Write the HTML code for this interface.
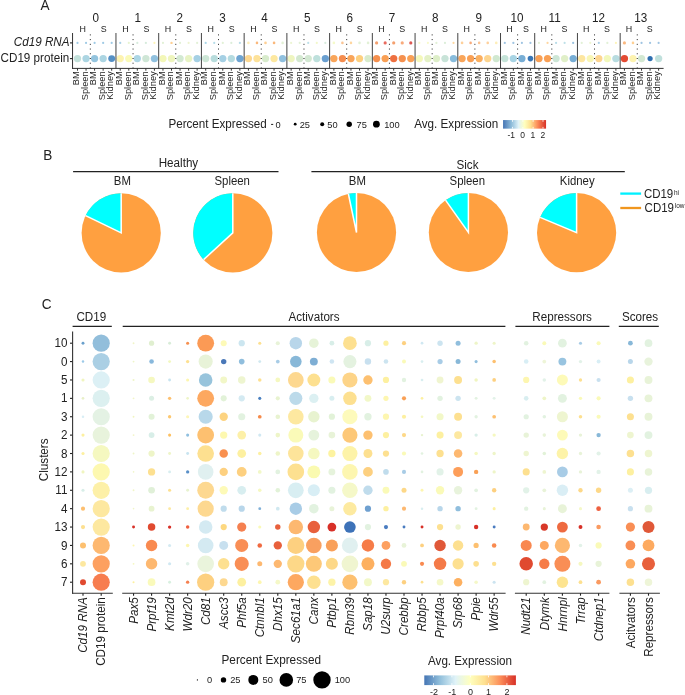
<!DOCTYPE html>
<html><head><meta charset="utf-8"><style>
html,body{margin:0;padding:0;background:#fff;}
svg{display:block;will-change:transform;}
text{font-family:"Liberation Sans", sans-serif;}
</style></head><body>
<svg width="685" height="695" viewBox="0 0 685 695" font-family='"Liberation Sans", sans-serif'>
<rect width="685" height="695" fill="#fff"/>
<text transform="translate(40.60,9.60) scale(1,1.06)" font-size="13.6" text-anchor="start" fill="#222222">A</text>
<circle cx="77.50" cy="58.60" r="3.65" fill="#c2e0da"/>
<circle cx="77.50" cy="42.90" r="1.10" fill="#9fcae5"/>
<circle cx="86.05" cy="58.60" r="3.65" fill="#acd5e2"/>
<circle cx="86.05" cy="42.90" r="1.10" fill="#9fcae5"/>
<circle cx="94.59" cy="58.60" r="3.65" fill="#94c4de"/>
<circle cx="94.59" cy="42.90" r="1.10" fill="#9fcae5"/>
<circle cx="103.14" cy="58.60" r="3.65" fill="#acd5e2"/>
<circle cx="103.14" cy="42.90" r="1.10" fill="#9fcae5"/>
<circle cx="111.68" cy="58.60" r="3.45" fill="#5590c5"/>
<circle cx="111.68" cy="42.90" r="1.10" fill="#9fcae5"/>
<text transform="translate(95.75,21.80) scale(1,1.07)" font-size="11.7" text-anchor="middle" fill="#222222">0</text>
<text transform="translate(82.67,32.40) scale(1,1.07)" font-size="8.9" text-anchor="middle" fill="#222222">H</text>
<text transform="translate(103.74,32.40) scale(1,1.07)" font-size="8.9" text-anchor="middle" fill="#222222">S</text>
<circle cx="120.23" cy="58.60" r="3.65" fill="#fdf3b0"/>
<circle cx="120.23" cy="42.90" r="1.10" fill="#aad0e6"/>
<circle cx="128.78" cy="58.60" r="3.65" fill="#fafab8"/>
<circle cx="128.78" cy="42.90" r="1.10" fill="#e7f4d0"/>
<circle cx="137.32" cy="58.60" r="3.65" fill="#acd6e5"/>
<circle cx="137.32" cy="42.90" r="1.10" fill="#d6ebdc"/>
<circle cx="145.87" cy="58.60" r="3.65" fill="#cfe6d6"/>
<circle cx="145.87" cy="42.90" r="1.10" fill="#d6ebdc"/>
<circle cx="154.41" cy="58.60" r="3.65" fill="#90c0de"/>
<circle cx="154.41" cy="42.90" r="1.10" fill="#fef4b8"/>
<text transform="translate(137.70,21.80) scale(1,1.07)" font-size="11.7" text-anchor="middle" fill="#222222">1</text>
<text transform="translate(125.36,32.40) scale(1,1.07)" font-size="8.9" text-anchor="middle" fill="#222222">H</text>
<text transform="translate(146.39,32.40) scale(1,1.07)" font-size="8.9" text-anchor="middle" fill="#222222">S</text>
<circle cx="162.96" cy="58.60" r="3.65" fill="#f3f7b8"/>
<circle cx="162.96" cy="42.90" r="1.10" fill="#e2f1d6"/>
<circle cx="171.51" cy="58.60" r="3.65" fill="#eef5bd"/>
<circle cx="171.51" cy="42.90" r="1.20" fill="#fed094"/>
<circle cx="180.05" cy="58.60" r="3.65" fill="#d3e9d2"/>
<circle cx="180.05" cy="42.90" r="1.10" fill="#e2f1d6"/>
<circle cx="188.60" cy="58.60" r="3.65" fill="#e8f3c4"/>
<circle cx="188.60" cy="42.90" r="1.10" fill="#eef4d0"/>
<circle cx="197.14" cy="58.60" r="3.65" fill="#a5d0e4"/>
<circle cx="197.14" cy="42.90" r="1.10" fill="#e2f1d6"/>
<text transform="translate(179.80,21.80) scale(1,1.07)" font-size="11.7" text-anchor="middle" fill="#222222">2</text>
<text transform="translate(168.04,32.40) scale(1,1.07)" font-size="8.9" text-anchor="middle" fill="#222222">H</text>
<text transform="translate(189.04,32.40) scale(1,1.07)" font-size="8.9" text-anchor="middle" fill="#222222">S</text>
<circle cx="205.69" cy="58.60" r="3.65" fill="#cde6d6"/>
<circle cx="205.69" cy="42.90" r="1.10" fill="#aad6e8"/>
<circle cx="214.24" cy="58.60" r="3.65" fill="#b8dcdc"/>
<circle cx="214.24" cy="42.90" r="1.10" fill="#b5dce8"/>
<circle cx="222.78" cy="58.60" r="3.65" fill="#a5d0e4"/>
<circle cx="222.78" cy="42.90" r="1.10" fill="#e2f1d6"/>
<circle cx="231.33" cy="58.60" r="3.65" fill="#b5dbe0"/>
<circle cx="231.33" cy="42.90" r="1.10" fill="#dceed9"/>
<circle cx="239.87" cy="58.60" r="3.65" fill="#6fa5d2"/>
<circle cx="239.87" cy="42.90" r="1.10" fill="#b8dce8"/>
<text transform="translate(222.50,21.80) scale(1,1.07)" font-size="11.7" text-anchor="middle" fill="#222222">3</text>
<text transform="translate(210.72,32.40) scale(1,1.07)" font-size="8.9" text-anchor="middle" fill="#222222">H</text>
<text transform="translate(231.70,32.40) scale(1,1.07)" font-size="8.9" text-anchor="middle" fill="#222222">S</text>
<circle cx="248.42" cy="58.60" r="3.65" fill="#fdd890"/>
<circle cx="248.42" cy="42.90" r="1.30" fill="#feeeb8"/>
<circle cx="256.97" cy="58.60" r="3.65" fill="#fde29a"/>
<circle cx="256.97" cy="42.90" r="1.30" fill="#fab87c"/>
<circle cx="265.51" cy="58.60" r="3.65" fill="#d8ebcc"/>
<circle cx="265.51" cy="42.90" r="1.30" fill="#fed094"/>
<circle cx="274.06" cy="58.60" r="3.65" fill="#fde8a0"/>
<circle cx="274.06" cy="42.90" r="1.30" fill="#fab87c"/>
<circle cx="282.60" cy="58.60" r="3.65" fill="#90c0de"/>
<circle cx="282.60" cy="42.90" r="1.30" fill="#e2f1d6"/>
<text transform="translate(264.40,21.80) scale(1,1.07)" font-size="11.7" text-anchor="middle" fill="#222222">4</text>
<text transform="translate(253.41,32.40) scale(1,1.07)" font-size="8.9" text-anchor="middle" fill="#222222">H</text>
<text transform="translate(274.35,32.40) scale(1,1.07)" font-size="8.9" text-anchor="middle" fill="#222222">S</text>
<circle cx="291.15" cy="58.60" r="3.65" fill="#eef5c0"/>
<circle cx="291.15" cy="42.90" r="1.10" fill="#ecf5d3"/>
<circle cx="299.70" cy="58.60" r="3.65" fill="#d3e8d0"/>
<circle cx="299.70" cy="42.90" r="1.10" fill="#e2f1d6"/>
<circle cx="308.24" cy="58.60" r="3.65" fill="#d3e8d2"/>
<circle cx="308.24" cy="42.90" r="1.10" fill="#bce0e8"/>
<circle cx="316.79" cy="58.60" r="3.65" fill="#bee0dc"/>
<circle cx="316.79" cy="42.90" r="1.10" fill="#f2f8ca"/>
<circle cx="325.33" cy="58.60" r="3.65" fill="#6a9fd0"/>
<circle cx="325.33" cy="42.90" r="1.10" fill="#d6ebdc"/>
<text transform="translate(307.30,21.80) scale(1,1.07)" font-size="11.7" text-anchor="middle" fill="#222222">5</text>
<text transform="translate(296.09,32.40) scale(1,1.07)" font-size="8.9" text-anchor="middle" fill="#222222">H</text>
<text transform="translate(317.00,32.40) scale(1,1.07)" font-size="8.9" text-anchor="middle" fill="#222222">S</text>
<circle cx="333.88" cy="58.60" r="3.65" fill="#f9a55a"/>
<circle cx="333.88" cy="42.90" r="1.30" fill="#f5faca"/>
<circle cx="342.43" cy="58.60" r="3.65" fill="#f58d4f"/>
<circle cx="342.43" cy="42.90" r="1.30" fill="#fac494"/>
<circle cx="350.97" cy="58.60" r="3.65" fill="#f9a55a"/>
<circle cx="350.97" cy="42.90" r="1.30" fill="#fed6a0"/>
<circle cx="359.52" cy="58.60" r="3.65" fill="#fdd080"/>
<circle cx="359.52" cy="42.90" r="1.30" fill="#e2f1d6"/>
<circle cx="368.06" cy="58.60" r="3.65" fill="#d8ebcc"/>
<circle cx="368.06" cy="42.90" r="1.30" fill="#e2f1d6"/>
<text transform="translate(349.70,21.80) scale(1,1.07)" font-size="11.7" text-anchor="middle" fill="#222222">6</text>
<text transform="translate(338.78,32.40) scale(1,1.07)" font-size="8.9" text-anchor="middle" fill="#222222">H</text>
<text transform="translate(359.66,32.40) scale(1,1.07)" font-size="8.9" text-anchor="middle" fill="#222222">S</text>
<circle cx="376.61" cy="58.60" r="3.65" fill="#f5904e"/>
<circle cx="376.61" cy="42.90" r="1.60" fill="#f4a06f"/>
<circle cx="385.16" cy="58.60" r="3.65" fill="#f9a055"/>
<circle cx="385.16" cy="42.90" r="1.60" fill="#e86a5e"/>
<circle cx="393.70" cy="58.60" r="3.65" fill="#ee7040"/>
<circle cx="393.70" cy="42.90" r="1.60" fill="#f4a06f"/>
<circle cx="402.25" cy="58.60" r="3.65" fill="#f5904e"/>
<circle cx="402.25" cy="42.90" r="1.60" fill="#f8aa7b"/>
<circle cx="410.79" cy="58.60" r="3.65" fill="#f9a055"/>
<circle cx="410.79" cy="42.90" r="1.60" fill="#dc5853"/>
<text transform="translate(392.00,21.80) scale(1,1.07)" font-size="11.7" text-anchor="middle" fill="#222222">7</text>
<text transform="translate(381.46,32.40) scale(1,1.07)" font-size="8.9" text-anchor="middle" fill="#222222">H</text>
<text transform="translate(402.31,32.40) scale(1,1.07)" font-size="8.9" text-anchor="middle" fill="#222222">S</text>
<circle cx="419.34" cy="58.60" r="3.65" fill="#f4f8bb"/>
<circle cx="419.34" cy="42.90" r="1.10" fill="#f8faca"/>
<circle cx="427.89" cy="58.60" r="3.65" fill="#e4f1c6"/>
<circle cx="427.89" cy="42.90" r="1.10" fill="#f8faca"/>
<circle cx="436.43" cy="58.60" r="3.65" fill="#ddeec8"/>
<circle cx="436.43" cy="42.90" r="1.10" fill="#e2f1d6"/>
<circle cx="444.98" cy="58.60" r="3.65" fill="#c8e3d8"/>
<circle cx="444.98" cy="42.90" r="1.10" fill="#dceed9"/>
<circle cx="453.52" cy="58.60" r="3.65" fill="#88bcdc"/>
<circle cx="453.52" cy="42.90" r="1.10" fill="#fed8a0"/>
<text transform="translate(435.30,21.80) scale(1,1.07)" font-size="11.7" text-anchor="middle" fill="#222222">8</text>
<text transform="translate(424.14,32.40) scale(1,1.07)" font-size="8.9" text-anchor="middle" fill="#222222">H</text>
<text transform="translate(444.96,32.40) scale(1,1.07)" font-size="8.9" text-anchor="middle" fill="#222222">S</text>
<circle cx="462.07" cy="58.60" r="3.65" fill="#f9a55a"/>
<circle cx="462.07" cy="42.90" r="1.30" fill="#fed09b"/>
<circle cx="470.62" cy="58.60" r="3.65" fill="#f9a055"/>
<circle cx="470.62" cy="42.90" r="1.30" fill="#f8aa7b"/>
<circle cx="479.16" cy="58.60" r="3.65" fill="#fbb060"/>
<circle cx="479.16" cy="42.90" r="1.30" fill="#fcc494"/>
<circle cx="487.71" cy="58.60" r="3.65" fill="#fdd590"/>
<circle cx="487.71" cy="42.90" r="1.30" fill="#fed09b"/>
<circle cx="496.25" cy="58.60" r="3.65" fill="#d0e8d0"/>
<circle cx="496.25" cy="42.90" r="1.30" fill="#feeeb8"/>
<text transform="translate(478.70,21.80) scale(1,1.07)" font-size="11.7" text-anchor="middle" fill="#222222">9</text>
<text transform="translate(466.83,32.40) scale(1,1.07)" font-size="8.9" text-anchor="middle" fill="#222222">H</text>
<text transform="translate(487.62,32.40) scale(1,1.07)" font-size="8.9" text-anchor="middle" fill="#222222">S</text>
<circle cx="504.80" cy="58.60" r="3.65" fill="#c5e3d8"/>
<circle cx="504.80" cy="42.90" r="1.10" fill="#9fc4e2"/>
<circle cx="513.35" cy="58.60" r="3.65" fill="#a8d4e4"/>
<circle cx="513.35" cy="42.90" r="1.10" fill="#9fc4e2"/>
<circle cx="521.89" cy="58.60" r="3.65" fill="#78aed5"/>
<circle cx="521.89" cy="42.90" r="1.10" fill="#9fc4e2"/>
<circle cx="530.44" cy="58.60" r="2.80" fill="#3a78b8"/>
<circle cx="530.44" cy="42.90" r="1.10" fill="#9fc4e2"/>
<text transform="translate(517.10,21.80) scale(1,1.07)" font-size="11.7" text-anchor="middle" fill="#222222">10</text>
<text transform="translate(509.51,32.40) scale(1,1.07)" font-size="8.9" text-anchor="middle" fill="#222222">H</text>
<text transform="translate(526.00,32.40) scale(1,1.07)" font-size="8.9" text-anchor="middle" fill="#222222">S</text>
<circle cx="538.98" cy="58.60" r="3.65" fill="#f9a055"/>
<circle cx="538.98" cy="42.90" r="1.10" fill="#e2f1d6"/>
<circle cx="547.53" cy="58.60" r="3.65" fill="#f9a055"/>
<circle cx="547.53" cy="42.90" r="1.10" fill="#fed6a0"/>
<circle cx="556.08" cy="58.60" r="3.65" fill="#cde6d6"/>
<circle cx="556.08" cy="42.90" r="1.10" fill="#b8dce8"/>
<circle cx="564.62" cy="58.60" r="3.65" fill="#e0efc8"/>
<circle cx="564.62" cy="42.90" r="1.10" fill="#bee0e8"/>
<circle cx="573.17" cy="58.60" r="3.65" fill="#78aed5"/>
<circle cx="573.17" cy="42.90" r="1.10" fill="#9ac2e0"/>
<text transform="translate(554.60,21.80) scale(1,1.07)" font-size="11.7" text-anchor="middle" fill="#222222">11</text>
<text transform="translate(543.65,32.40) scale(1,1.07)" font-size="8.9" text-anchor="middle" fill="#222222">H</text>
<text transform="translate(564.38,32.40) scale(1,1.07)" font-size="8.9" text-anchor="middle" fill="#222222">S</text>
<circle cx="581.71" cy="58.60" r="3.65" fill="#fde6a0"/>
<circle cx="581.71" cy="42.90" r="1.10" fill="#e2f1d6"/>
<circle cx="590.26" cy="58.60" r="3.65" fill="#f8f6b5"/>
<circle cx="590.26" cy="42.90" r="1.10" fill="#eef6d0"/>
<circle cx="598.81" cy="58.60" r="3.65" fill="#fdd590"/>
<circle cx="598.81" cy="42.90" r="1.10" fill="#acd0e6"/>
<circle cx="607.35" cy="58.60" r="3.65" fill="#f2f8bb"/>
<circle cx="607.35" cy="42.90" r="1.10" fill="#e2f1d6"/>
<circle cx="615.90" cy="58.60" r="3.65" fill="#b8dce0"/>
<circle cx="615.90" cy="42.90" r="1.10" fill="#fef4b8"/>
<text transform="translate(598.40,21.80) scale(1,1.07)" font-size="11.7" text-anchor="middle" fill="#222222">12</text>
<text transform="translate(586.33,32.40) scale(1,1.07)" font-size="8.9" text-anchor="middle" fill="#222222">H</text>
<text transform="translate(607.03,32.40) scale(1,1.07)" font-size="8.9" text-anchor="middle" fill="#222222">S</text>
<circle cx="624.44" cy="58.60" r="3.65" fill="#e34a33"/>
<circle cx="624.44" cy="42.90" r="1.60" fill="#fab880"/>
<circle cx="632.99" cy="58.60" r="3.65" fill="#fdf3b0"/>
<circle cx="632.99" cy="42.90" r="1.30" fill="#fed094"/>
<circle cx="641.54" cy="58.60" r="3.65" fill="#d3e8d2"/>
<circle cx="641.54" cy="42.90" r="1.10" fill="#9fc4e2"/>
<circle cx="650.08" cy="58.60" r="2.60" fill="#2f6fb0"/>
<circle cx="650.08" cy="42.90" r="1.10" fill="#9fc4e2"/>
<circle cx="658.63" cy="58.60" r="3.65" fill="#c0e0dc"/>
<circle cx="658.63" cy="42.90" r="1.10" fill="#9fc4e2"/>
<text transform="translate(640.80,21.80) scale(1,1.07)" font-size="11.7" text-anchor="middle" fill="#222222">13</text>
<text transform="translate(629.02,32.40) scale(1,1.07)" font-size="8.9" text-anchor="middle" fill="#222222">H</text>
<text transform="translate(649.68,32.40) scale(1,1.07)" font-size="8.9" text-anchor="middle" fill="#222222">S</text>
<line x1="90.32" y1="34.40" x2="90.32" y2="68.40" stroke="#222" stroke-width="1.0" stroke-dasharray="1,3.72"/>
<line x1="133.05" y1="34.40" x2="133.05" y2="68.40" stroke="#222" stroke-width="1.0" stroke-dasharray="1,3.72"/>
<line x1="175.78" y1="34.40" x2="175.78" y2="68.40" stroke="#222" stroke-width="1.0" stroke-dasharray="1,3.72"/>
<line x1="218.51" y1="34.40" x2="218.51" y2="68.40" stroke="#222" stroke-width="1.0" stroke-dasharray="1,3.72"/>
<line x1="261.24" y1="34.40" x2="261.24" y2="68.40" stroke="#222" stroke-width="1.0" stroke-dasharray="1,3.72"/>
<line x1="303.97" y1="34.40" x2="303.97" y2="68.40" stroke="#222" stroke-width="1.0" stroke-dasharray="1,3.72"/>
<line x1="346.70" y1="34.40" x2="346.70" y2="68.40" stroke="#222" stroke-width="1.0" stroke-dasharray="1,3.72"/>
<line x1="389.43" y1="34.40" x2="389.43" y2="68.40" stroke="#222" stroke-width="1.0" stroke-dasharray="1,3.72"/>
<line x1="432.16" y1="34.40" x2="432.16" y2="68.40" stroke="#222" stroke-width="1.0" stroke-dasharray="1,3.72"/>
<line x1="474.89" y1="34.40" x2="474.89" y2="68.40" stroke="#222" stroke-width="1.0" stroke-dasharray="1,3.72"/>
<line x1="517.62" y1="34.40" x2="517.62" y2="68.40" stroke="#222" stroke-width="1.0" stroke-dasharray="1,3.72"/>
<line x1="551.80" y1="34.40" x2="551.80" y2="68.40" stroke="#222" stroke-width="1.0" stroke-dasharray="1,3.72"/>
<line x1="594.53" y1="34.40" x2="594.53" y2="68.40" stroke="#222" stroke-width="1.0" stroke-dasharray="1,3.72"/>
<line x1="637.26" y1="34.40" x2="637.26" y2="68.40" stroke="#222" stroke-width="1.0" stroke-dasharray="1,3.72"/>
<line x1="115.96" y1="33.00" x2="115.96" y2="68.40" stroke="#444" stroke-width="1.0"/>
<line x1="158.69" y1="33.00" x2="158.69" y2="68.40" stroke="#444" stroke-width="1.0"/>
<line x1="201.42" y1="33.00" x2="201.42" y2="68.40" stroke="#444" stroke-width="1.0"/>
<line x1="244.15" y1="33.00" x2="244.15" y2="68.40" stroke="#444" stroke-width="1.0"/>
<line x1="286.88" y1="33.00" x2="286.88" y2="68.40" stroke="#444" stroke-width="1.0"/>
<line x1="329.61" y1="33.00" x2="329.61" y2="68.40" stroke="#444" stroke-width="1.0"/>
<line x1="372.34" y1="33.00" x2="372.34" y2="68.40" stroke="#444" stroke-width="1.0"/>
<line x1="415.07" y1="33.00" x2="415.07" y2="68.40" stroke="#444" stroke-width="1.0"/>
<line x1="457.80" y1="33.00" x2="457.80" y2="68.40" stroke="#444" stroke-width="1.0"/>
<line x1="500.53" y1="33.00" x2="500.53" y2="68.40" stroke="#444" stroke-width="1.0"/>
<line x1="534.71" y1="33.00" x2="534.71" y2="68.40" stroke="#444" stroke-width="1.0"/>
<line x1="577.44" y1="33.00" x2="577.44" y2="68.40" stroke="#444" stroke-width="1.0"/>
<line x1="620.17" y1="33.00" x2="620.17" y2="68.40" stroke="#444" stroke-width="1.0"/>
<line x1="72.55" y1="33.00" x2="72.55" y2="68.90" stroke="#333333" stroke-width="1.0"/>
<line x1="72.05" y1="68.40" x2="663.60" y2="68.40" stroke="#333333" stroke-width="1.0"/>
<line x1="69.95" y1="42.90" x2="72.55" y2="42.90" stroke="#222" stroke-width="1.1"/>
<line x1="69.95" y1="58.60" x2="72.55" y2="58.60" stroke="#222" stroke-width="1.1"/>
<text transform="translate(69.50,45.70) scale(1,1.07)" font-size="11.66" text-anchor="end" font-style="italic" fill="#222222">Cd19 RNA</text>
<text transform="translate(69.20,61.60) scale(1,1.07)" font-size="11.66" text-anchor="end" fill="#222222">CD19 protein</text>
<line x1="77.50" y1="68.40" x2="77.50" y2="70.70" stroke="#333" stroke-width="1.0"/>
<text transform="translate(79.30,71.30) rotate(-90) scale(1,1.07)" font-size="9.3" text-anchor="end" fill="#222222">BM</text>
<line x1="86.05" y1="68.40" x2="86.05" y2="70.70" stroke="#333" stroke-width="1.0"/>
<text transform="translate(87.85,71.30) rotate(-90) scale(1,1.07)" font-size="9.3" text-anchor="end" fill="#222222">Spleen</text>
<line x1="94.59" y1="68.40" x2="94.59" y2="70.70" stroke="#333" stroke-width="1.0"/>
<text transform="translate(96.39,71.30) rotate(-90) scale(1,1.07)" font-size="9.3" text-anchor="end" fill="#222222">BM</text>
<line x1="103.14" y1="68.40" x2="103.14" y2="70.70" stroke="#333" stroke-width="1.0"/>
<text transform="translate(104.94,71.30) rotate(-90) scale(1,1.07)" font-size="9.3" text-anchor="end" fill="#222222">Spleen</text>
<line x1="111.68" y1="68.40" x2="111.68" y2="70.70" stroke="#333" stroke-width="1.0"/>
<text transform="translate(113.48,71.30) rotate(-90) scale(1,1.07)" font-size="9.3" text-anchor="end" fill="#222222">Kidney</text>
<line x1="120.23" y1="68.40" x2="120.23" y2="70.70" stroke="#333" stroke-width="1.0"/>
<text transform="translate(122.03,71.30) rotate(-90) scale(1,1.07)" font-size="9.3" text-anchor="end" fill="#222222">BM</text>
<line x1="128.78" y1="68.40" x2="128.78" y2="70.70" stroke="#333" stroke-width="1.0"/>
<text transform="translate(130.58,71.30) rotate(-90) scale(1,1.07)" font-size="9.3" text-anchor="end" fill="#222222">Spleen</text>
<line x1="137.32" y1="68.40" x2="137.32" y2="70.70" stroke="#333" stroke-width="1.0"/>
<text transform="translate(139.12,71.30) rotate(-90) scale(1,1.07)" font-size="9.3" text-anchor="end" fill="#222222">BM</text>
<line x1="145.87" y1="68.40" x2="145.87" y2="70.70" stroke="#333" stroke-width="1.0"/>
<text transform="translate(147.67,71.30) rotate(-90) scale(1,1.07)" font-size="9.3" text-anchor="end" fill="#222222">Spleen</text>
<line x1="154.41" y1="68.40" x2="154.41" y2="70.70" stroke="#333" stroke-width="1.0"/>
<text transform="translate(156.21,71.30) rotate(-90) scale(1,1.07)" font-size="9.3" text-anchor="end" fill="#222222">Kidney</text>
<line x1="162.96" y1="68.40" x2="162.96" y2="70.70" stroke="#333" stroke-width="1.0"/>
<text transform="translate(164.76,71.30) rotate(-90) scale(1,1.07)" font-size="9.3" text-anchor="end" fill="#222222">BM</text>
<line x1="171.51" y1="68.40" x2="171.51" y2="70.70" stroke="#333" stroke-width="1.0"/>
<text transform="translate(173.31,71.30) rotate(-90) scale(1,1.07)" font-size="9.3" text-anchor="end" fill="#222222">Spleen</text>
<line x1="180.05" y1="68.40" x2="180.05" y2="70.70" stroke="#333" stroke-width="1.0"/>
<text transform="translate(181.85,71.30) rotate(-90) scale(1,1.07)" font-size="9.3" text-anchor="end" fill="#222222">BM</text>
<line x1="188.60" y1="68.40" x2="188.60" y2="70.70" stroke="#333" stroke-width="1.0"/>
<text transform="translate(190.40,71.30) rotate(-90) scale(1,1.07)" font-size="9.3" text-anchor="end" fill="#222222">Spleen</text>
<line x1="197.14" y1="68.40" x2="197.14" y2="70.70" stroke="#333" stroke-width="1.0"/>
<text transform="translate(198.94,71.30) rotate(-90) scale(1,1.07)" font-size="9.3" text-anchor="end" fill="#222222">Kidney</text>
<line x1="205.69" y1="68.40" x2="205.69" y2="70.70" stroke="#333" stroke-width="1.0"/>
<text transform="translate(207.49,71.30) rotate(-90) scale(1,1.07)" font-size="9.3" text-anchor="end" fill="#222222">BM</text>
<line x1="214.24" y1="68.40" x2="214.24" y2="70.70" stroke="#333" stroke-width="1.0"/>
<text transform="translate(216.04,71.30) rotate(-90) scale(1,1.07)" font-size="9.3" text-anchor="end" fill="#222222">Spleen</text>
<line x1="222.78" y1="68.40" x2="222.78" y2="70.70" stroke="#333" stroke-width="1.0"/>
<text transform="translate(224.58,71.30) rotate(-90) scale(1,1.07)" font-size="9.3" text-anchor="end" fill="#222222">BM</text>
<line x1="231.33" y1="68.40" x2="231.33" y2="70.70" stroke="#333" stroke-width="1.0"/>
<text transform="translate(233.13,71.30) rotate(-90) scale(1,1.07)" font-size="9.3" text-anchor="end" fill="#222222">Spleen</text>
<line x1="239.87" y1="68.40" x2="239.87" y2="70.70" stroke="#333" stroke-width="1.0"/>
<text transform="translate(241.67,71.30) rotate(-90) scale(1,1.07)" font-size="9.3" text-anchor="end" fill="#222222">Kidney</text>
<line x1="248.42" y1="68.40" x2="248.42" y2="70.70" stroke="#333" stroke-width="1.0"/>
<text transform="translate(250.22,71.30) rotate(-90) scale(1,1.07)" font-size="9.3" text-anchor="end" fill="#222222">BM</text>
<line x1="256.97" y1="68.40" x2="256.97" y2="70.70" stroke="#333" stroke-width="1.0"/>
<text transform="translate(258.77,71.30) rotate(-90) scale(1,1.07)" font-size="9.3" text-anchor="end" fill="#222222">Spleen</text>
<line x1="265.51" y1="68.40" x2="265.51" y2="70.70" stroke="#333" stroke-width="1.0"/>
<text transform="translate(267.31,71.30) rotate(-90) scale(1,1.07)" font-size="9.3" text-anchor="end" fill="#222222">BM</text>
<line x1="274.06" y1="68.40" x2="274.06" y2="70.70" stroke="#333" stroke-width="1.0"/>
<text transform="translate(275.86,71.30) rotate(-90) scale(1,1.07)" font-size="9.3" text-anchor="end" fill="#222222">Spleen</text>
<line x1="282.60" y1="68.40" x2="282.60" y2="70.70" stroke="#333" stroke-width="1.0"/>
<text transform="translate(284.40,71.30) rotate(-90) scale(1,1.07)" font-size="9.3" text-anchor="end" fill="#222222">Kidney</text>
<line x1="291.15" y1="68.40" x2="291.15" y2="70.70" stroke="#333" stroke-width="1.0"/>
<text transform="translate(292.95,71.30) rotate(-90) scale(1,1.07)" font-size="9.3" text-anchor="end" fill="#222222">BM</text>
<line x1="299.70" y1="68.40" x2="299.70" y2="70.70" stroke="#333" stroke-width="1.0"/>
<text transform="translate(301.50,71.30) rotate(-90) scale(1,1.07)" font-size="9.3" text-anchor="end" fill="#222222">Spleen</text>
<line x1="308.24" y1="68.40" x2="308.24" y2="70.70" stroke="#333" stroke-width="1.0"/>
<text transform="translate(310.04,71.30) rotate(-90) scale(1,1.07)" font-size="9.3" text-anchor="end" fill="#222222">BM</text>
<line x1="316.79" y1="68.40" x2="316.79" y2="70.70" stroke="#333" stroke-width="1.0"/>
<text transform="translate(318.59,71.30) rotate(-90) scale(1,1.07)" font-size="9.3" text-anchor="end" fill="#222222">Spleen</text>
<line x1="325.33" y1="68.40" x2="325.33" y2="70.70" stroke="#333" stroke-width="1.0"/>
<text transform="translate(327.13,71.30) rotate(-90) scale(1,1.07)" font-size="9.3" text-anchor="end" fill="#222222">Kidney</text>
<line x1="333.88" y1="68.40" x2="333.88" y2="70.70" stroke="#333" stroke-width="1.0"/>
<text transform="translate(335.68,71.30) rotate(-90) scale(1,1.07)" font-size="9.3" text-anchor="end" fill="#222222">BM</text>
<line x1="342.43" y1="68.40" x2="342.43" y2="70.70" stroke="#333" stroke-width="1.0"/>
<text transform="translate(344.23,71.30) rotate(-90) scale(1,1.07)" font-size="9.3" text-anchor="end" fill="#222222">Spleen</text>
<line x1="350.97" y1="68.40" x2="350.97" y2="70.70" stroke="#333" stroke-width="1.0"/>
<text transform="translate(352.77,71.30) rotate(-90) scale(1,1.07)" font-size="9.3" text-anchor="end" fill="#222222">BM</text>
<line x1="359.52" y1="68.40" x2="359.52" y2="70.70" stroke="#333" stroke-width="1.0"/>
<text transform="translate(361.32,71.30) rotate(-90) scale(1,1.07)" font-size="9.3" text-anchor="end" fill="#222222">Spleen</text>
<line x1="368.06" y1="68.40" x2="368.06" y2="70.70" stroke="#333" stroke-width="1.0"/>
<text transform="translate(369.86,71.30) rotate(-90) scale(1,1.07)" font-size="9.3" text-anchor="end" fill="#222222">Kidney</text>
<line x1="376.61" y1="68.40" x2="376.61" y2="70.70" stroke="#333" stroke-width="1.0"/>
<text transform="translate(378.41,71.30) rotate(-90) scale(1,1.07)" font-size="9.3" text-anchor="end" fill="#222222">BM</text>
<line x1="385.16" y1="68.40" x2="385.16" y2="70.70" stroke="#333" stroke-width="1.0"/>
<text transform="translate(386.96,71.30) rotate(-90) scale(1,1.07)" font-size="9.3" text-anchor="end" fill="#222222">Spleen</text>
<line x1="393.70" y1="68.40" x2="393.70" y2="70.70" stroke="#333" stroke-width="1.0"/>
<text transform="translate(395.50,71.30) rotate(-90) scale(1,1.07)" font-size="9.3" text-anchor="end" fill="#222222">BM</text>
<line x1="402.25" y1="68.40" x2="402.25" y2="70.70" stroke="#333" stroke-width="1.0"/>
<text transform="translate(404.05,71.30) rotate(-90) scale(1,1.07)" font-size="9.3" text-anchor="end" fill="#222222">Spleen</text>
<line x1="410.79" y1="68.40" x2="410.79" y2="70.70" stroke="#333" stroke-width="1.0"/>
<text transform="translate(412.59,71.30) rotate(-90) scale(1,1.07)" font-size="9.3" text-anchor="end" fill="#222222">Kidney</text>
<line x1="419.34" y1="68.40" x2="419.34" y2="70.70" stroke="#333" stroke-width="1.0"/>
<text transform="translate(421.14,71.30) rotate(-90) scale(1,1.07)" font-size="9.3" text-anchor="end" fill="#222222">BM</text>
<line x1="427.89" y1="68.40" x2="427.89" y2="70.70" stroke="#333" stroke-width="1.0"/>
<text transform="translate(429.69,71.30) rotate(-90) scale(1,1.07)" font-size="9.3" text-anchor="end" fill="#222222">Spleen</text>
<line x1="436.43" y1="68.40" x2="436.43" y2="70.70" stroke="#333" stroke-width="1.0"/>
<text transform="translate(438.23,71.30) rotate(-90) scale(1,1.07)" font-size="9.3" text-anchor="end" fill="#222222">BM</text>
<line x1="444.98" y1="68.40" x2="444.98" y2="70.70" stroke="#333" stroke-width="1.0"/>
<text transform="translate(446.78,71.30) rotate(-90) scale(1,1.07)" font-size="9.3" text-anchor="end" fill="#222222">Spleen</text>
<line x1="453.52" y1="68.40" x2="453.52" y2="70.70" stroke="#333" stroke-width="1.0"/>
<text transform="translate(455.32,71.30) rotate(-90) scale(1,1.07)" font-size="9.3" text-anchor="end" fill="#222222">Kidney</text>
<line x1="462.07" y1="68.40" x2="462.07" y2="70.70" stroke="#333" stroke-width="1.0"/>
<text transform="translate(463.87,71.30) rotate(-90) scale(1,1.07)" font-size="9.3" text-anchor="end" fill="#222222">BM</text>
<line x1="470.62" y1="68.40" x2="470.62" y2="70.70" stroke="#333" stroke-width="1.0"/>
<text transform="translate(472.42,71.30) rotate(-90) scale(1,1.07)" font-size="9.3" text-anchor="end" fill="#222222">Spleen</text>
<line x1="479.16" y1="68.40" x2="479.16" y2="70.70" stroke="#333" stroke-width="1.0"/>
<text transform="translate(480.96,71.30) rotate(-90) scale(1,1.07)" font-size="9.3" text-anchor="end" fill="#222222">BM</text>
<line x1="487.71" y1="68.40" x2="487.71" y2="70.70" stroke="#333" stroke-width="1.0"/>
<text transform="translate(489.51,71.30) rotate(-90) scale(1,1.07)" font-size="9.3" text-anchor="end" fill="#222222">Spleen</text>
<line x1="496.25" y1="68.40" x2="496.25" y2="70.70" stroke="#333" stroke-width="1.0"/>
<text transform="translate(498.05,71.30) rotate(-90) scale(1,1.07)" font-size="9.3" text-anchor="end" fill="#222222">Kidney</text>
<line x1="504.80" y1="68.40" x2="504.80" y2="70.70" stroke="#333" stroke-width="1.0"/>
<text transform="translate(506.60,71.30) rotate(-90) scale(1,1.07)" font-size="9.3" text-anchor="end" fill="#222222">BM</text>
<line x1="513.35" y1="68.40" x2="513.35" y2="70.70" stroke="#333" stroke-width="1.0"/>
<text transform="translate(515.15,71.30) rotate(-90) scale(1,1.07)" font-size="9.3" text-anchor="end" fill="#222222">Spleen</text>
<line x1="521.89" y1="68.40" x2="521.89" y2="70.70" stroke="#333" stroke-width="1.0"/>
<text transform="translate(523.69,71.30) rotate(-90) scale(1,1.07)" font-size="9.3" text-anchor="end" fill="#222222">BM</text>
<line x1="530.44" y1="68.40" x2="530.44" y2="70.70" stroke="#333" stroke-width="1.0"/>
<text transform="translate(532.24,71.30) rotate(-90) scale(1,1.07)" font-size="9.3" text-anchor="end" fill="#222222">Spleen</text>
<line x1="538.98" y1="68.40" x2="538.98" y2="70.70" stroke="#333" stroke-width="1.0"/>
<text transform="translate(540.78,71.30) rotate(-90) scale(1,1.07)" font-size="9.3" text-anchor="end" fill="#222222">BM</text>
<line x1="547.53" y1="68.40" x2="547.53" y2="70.70" stroke="#333" stroke-width="1.0"/>
<text transform="translate(549.33,71.30) rotate(-90) scale(1,1.07)" font-size="9.3" text-anchor="end" fill="#222222">Spleen</text>
<line x1="556.08" y1="68.40" x2="556.08" y2="70.70" stroke="#333" stroke-width="1.0"/>
<text transform="translate(557.88,71.30) rotate(-90) scale(1,1.07)" font-size="9.3" text-anchor="end" fill="#222222">BM</text>
<line x1="564.62" y1="68.40" x2="564.62" y2="70.70" stroke="#333" stroke-width="1.0"/>
<text transform="translate(566.42,71.30) rotate(-90) scale(1,1.07)" font-size="9.3" text-anchor="end" fill="#222222">Spleen</text>
<line x1="573.17" y1="68.40" x2="573.17" y2="70.70" stroke="#333" stroke-width="1.0"/>
<text transform="translate(574.97,71.30) rotate(-90) scale(1,1.07)" font-size="9.3" text-anchor="end" fill="#222222">Kidney</text>
<line x1="581.71" y1="68.40" x2="581.71" y2="70.70" stroke="#333" stroke-width="1.0"/>
<text transform="translate(583.51,71.30) rotate(-90) scale(1,1.07)" font-size="9.3" text-anchor="end" fill="#222222">BM</text>
<line x1="590.26" y1="68.40" x2="590.26" y2="70.70" stroke="#333" stroke-width="1.0"/>
<text transform="translate(592.06,71.30) rotate(-90) scale(1,1.07)" font-size="9.3" text-anchor="end" fill="#222222">Spleen</text>
<line x1="598.81" y1="68.40" x2="598.81" y2="70.70" stroke="#333" stroke-width="1.0"/>
<text transform="translate(600.61,71.30) rotate(-90) scale(1,1.07)" font-size="9.3" text-anchor="end" fill="#222222">BM</text>
<line x1="607.35" y1="68.40" x2="607.35" y2="70.70" stroke="#333" stroke-width="1.0"/>
<text transform="translate(609.15,71.30) rotate(-90) scale(1,1.07)" font-size="9.3" text-anchor="end" fill="#222222">Spleen</text>
<line x1="615.90" y1="68.40" x2="615.90" y2="70.70" stroke="#333" stroke-width="1.0"/>
<text transform="translate(617.70,71.30) rotate(-90) scale(1,1.07)" font-size="9.3" text-anchor="end" fill="#222222">Kidney</text>
<line x1="624.44" y1="68.40" x2="624.44" y2="70.70" stroke="#333" stroke-width="1.0"/>
<text transform="translate(626.24,71.30) rotate(-90) scale(1,1.07)" font-size="9.3" text-anchor="end" fill="#222222">BM</text>
<line x1="632.99" y1="68.40" x2="632.99" y2="70.70" stroke="#333" stroke-width="1.0"/>
<text transform="translate(634.79,71.30) rotate(-90) scale(1,1.07)" font-size="9.3" text-anchor="end" fill="#222222">Spleen</text>
<line x1="641.54" y1="68.40" x2="641.54" y2="70.70" stroke="#333" stroke-width="1.0"/>
<text transform="translate(643.34,71.30) rotate(-90) scale(1,1.07)" font-size="9.3" text-anchor="end" fill="#222222">BM</text>
<line x1="650.08" y1="68.40" x2="650.08" y2="70.70" stroke="#333" stroke-width="1.0"/>
<text transform="translate(651.88,71.30) rotate(-90) scale(1,1.07)" font-size="9.3" text-anchor="end" fill="#222222">Spleen</text>
<line x1="658.63" y1="68.40" x2="658.63" y2="70.70" stroke="#333" stroke-width="1.0"/>
<text transform="translate(660.43,71.30) rotate(-90) scale(1,1.07)" font-size="9.3" text-anchor="end" fill="#222222">Kidney</text>
<text transform="translate(168.40,127.80) scale(1,1.07)" font-size="11.66" text-anchor="start" fill="#222222">Percent Expressed</text>
<rect x="271.1" y="123.9" width="2.1" height="1.1" fill="#333"/>
<circle cx="295.20" cy="124.20" r="1.40" fill="#000"/>
<text transform="translate(299.70,127.60) scale(1,1.07)" font-size="9.3" text-anchor="start" fill="#222222">25</text>
<circle cx="322.20" cy="124.20" r="2.00" fill="#000"/>
<text transform="translate(327.30,127.60) scale(1,1.07)" font-size="9.3" text-anchor="start" fill="#222222">50</text>
<circle cx="349.20" cy="124.20" r="2.70" fill="#000"/>
<text transform="translate(356.60,127.60) scale(1,1.07)" font-size="9.3" text-anchor="start" fill="#222222">75</text>
<circle cx="376.40" cy="124.20" r="3.40" fill="#000"/>
<text transform="translate(384.20,127.60) scale(1,1.07)" font-size="9.3" text-anchor="start" fill="#222222">100</text>
<text transform="translate(275.60,127.60) scale(1,1.07)" font-size="9.3" text-anchor="start" fill="#222222">0</text>
<text transform="translate(414.20,128.00) scale(1,1.07)" font-size="11.66" text-anchor="start" fill="#222222">Avg. Expression</text>
<defs>
<linearGradient id="gA" x1="0" x2="1" y1="0" y2="0">
<stop offset="0" stop-color="#4575b4"/><stop offset="0.2" stop-color="#91bfdb"/><stop offset="0.36" stop-color="#e0f3f8"/>
<stop offset="0.5" stop-color="#ffffbf"/><stop offset="0.64" stop-color="#fee090"/><stop offset="0.8" stop-color="#fc8d59"/><stop offset="1" stop-color="#d73027"/>
</linearGradient>
<linearGradient id="gC" x1="0" x2="1" y1="0" y2="0">
<stop offset="0" stop-color="#4575b4"/><stop offset="0.17" stop-color="#91bfdb"/><stop offset="0.34" stop-color="#e0f3f8"/>
<stop offset="0.5" stop-color="#ffffbf"/><stop offset="0.66" stop-color="#fee090"/><stop offset="0.83" stop-color="#fc8d59"/><stop offset="1" stop-color="#d73027"/>
</linearGradient>
</defs>
<rect x="503.06" y="120.06" width="43.0" height="8.58" fill="url(#gA)"/>
<line x1="512.50" y1="120.06" x2="512.50" y2="121.80" stroke="#fff" stroke-width="0.8"/>
<line x1="512.50" y1="126.90" x2="512.50" y2="128.64" stroke="#fff" stroke-width="0.8"/>
<line x1="522.90" y1="120.06" x2="522.90" y2="121.80" stroke="#fff" stroke-width="0.8"/>
<line x1="522.90" y1="126.90" x2="522.90" y2="128.64" stroke="#fff" stroke-width="0.8"/>
<line x1="533.10" y1="120.06" x2="533.10" y2="121.80" stroke="#fff" stroke-width="0.8"/>
<line x1="533.10" y1="126.90" x2="533.10" y2="128.64" stroke="#fff" stroke-width="0.8"/>
<line x1="543.00" y1="120.06" x2="543.00" y2="121.80" stroke="#fff" stroke-width="0.8"/>
<line x1="543.00" y1="126.90" x2="543.00" y2="128.64" stroke="#fff" stroke-width="0.8"/>
<text transform="translate(511.20,137.80) scale(1,1.07)" font-size="8.5" text-anchor="middle" fill="#222222">-1</text>
<text transform="translate(522.60,137.80) scale(1,1.07)" font-size="8.5" text-anchor="middle" fill="#222222">0</text>
<text transform="translate(532.80,137.80) scale(1,1.07)" font-size="8.5" text-anchor="middle" fill="#222222">1</text>
<text transform="translate(542.90,137.80) scale(1,1.07)" font-size="8.5" text-anchor="middle" fill="#222222">2</text>
<text transform="translate(43.30,159.60) scale(1,1.06)" font-size="13.6" text-anchor="start" fill="#222222">B</text>
<line x1="73.10" y1="171.70" x2="278.50" y2="171.70" stroke="#222" stroke-width="1.2"/>
<text transform="translate(178.45,166.60) scale(1,1.07)" font-size="11.66" text-anchor="middle" fill="#222222">Healthy</text>
<line x1="311.40" y1="171.60" x2="624.80" y2="171.60" stroke="#222" stroke-width="1.2"/>
<text transform="translate(467.50,168.80) scale(1,1.07)" font-size="11.66" text-anchor="middle" fill="#222222">Sick</text>
<circle cx="121.2" cy="232.9" r="39.6" fill="#ffa040"/>
<path d="M121.2,232.9 L121.2,193.3 A39.6,39.6 0 0 0 85.58,215.59 Z" fill="#00ffff"/>
<path d="M121.2,193.3 L121.2,232.9 L85.58,215.59" fill="none" stroke="#fff" stroke-width="1.5"/>
<text transform="translate(122.40,185.20) scale(1,1.07)" font-size="11.4" text-anchor="middle" fill="#222222">BM</text>
<circle cx="232.8" cy="232.9" r="39.6" fill="#ffa040"/>
<path d="M232.8,232.9 L232.8,193.3 A39.6,39.6 0 0 0 203.59,259.64 Z" fill="#00ffff"/>
<path d="M232.8,193.3 L232.8,232.9 L203.59,259.64" fill="none" stroke="#fff" stroke-width="1.5"/>
<text transform="translate(232.20,185.20) scale(1,1.07)" font-size="11.4" text-anchor="middle" fill="#222222">Spleen</text>
<circle cx="356.5" cy="232.5" r="39.6" fill="#ffa040"/>
<path d="M356.5,232.5 L356.5,192.9 A39.6,39.6 0 0 0 348.35,193.75 Z" fill="#00ffff"/>
<path d="M356.5,192.9 L356.5,232.5 L348.35,193.75" fill="none" stroke="#fff" stroke-width="1.5"/>
<text transform="translate(357.40,185.20) scale(1,1.07)" font-size="11.4" text-anchor="middle" fill="#222222">BM</text>
<circle cx="468.4" cy="232.5" r="39.6" fill="#ffa040"/>
<path d="M468.4,232.5 L468.4,192.9 A39.6,39.6 0 0 0 445.53,200.17 Z" fill="#00ffff"/>
<path d="M468.4,192.9 L468.4,232.5 L445.53,200.17" fill="none" stroke="#fff" stroke-width="1.5"/>
<text transform="translate(467.30,185.20) scale(1,1.07)" font-size="11.4" text-anchor="middle" fill="#222222">Spleen</text>
<circle cx="576.6" cy="232.7" r="39.6" fill="#ffa040"/>
<path d="M576.6,232.7 L576.6,193.1 A39.6,39.6 0 0 0 540.06,217.43 Z" fill="#00ffff"/>
<path d="M576.6,193.1 L576.6,232.7 L540.06,217.43" fill="none" stroke="#fff" stroke-width="1.5"/>
<text transform="translate(577.20,185.20) scale(1,1.07)" font-size="11.4" text-anchor="middle" fill="#222222">Kidney</text>
<line x1="620.30" y1="193.60" x2="641.10" y2="193.60" stroke="#00f0ff" stroke-width="2.3"/>
<line x1="620.30" y1="208.00" x2="641.10" y2="208.00" stroke="#f0961e" stroke-width="2.3"/>
<text transform="translate(643.90,197.60) scale(1,1.07)" font-size="11.5" text-anchor="start" fill="#222222">CD19</text>
<text transform="translate(674.00,194.50) scale(1,1.07)" font-size="6.5" text-anchor="start" fill="#222222">hi</text>
<text transform="translate(644.60,211.90) scale(1,1.07)" font-size="11.5" text-anchor="start" fill="#222222">CD19</text>
<text transform="translate(674.80,208.10) scale(1,1.07)" font-size="6.5" text-anchor="start" fill="#222222">low</text>
<text transform="translate(41.70,308.50) scale(1,1.06)" font-size="13.6" text-anchor="start" fill="#222222">C</text>
<circle cx="83.00" cy="343.20" r="1.45" fill="#6aa0cc"/>
<circle cx="101.20" cy="343.20" r="8.60" fill="#92bedb"/>
<circle cx="133.55" cy="343.20" r="0.93" fill="#f0f5c8"/>
<circle cx="151.58" cy="343.20" r="2.60" fill="#e0efd0"/>
<circle cx="169.61" cy="343.20" r="1.45" fill="#d8ecd8"/>
<circle cx="187.64" cy="343.20" r="1.55" fill="#f69050"/>
<circle cx="205.67" cy="343.20" r="8.42" fill="#fb9a55"/>
<circle cx="223.70" cy="343.20" r="3.02" fill="#fdfab8"/>
<circle cx="241.73" cy="343.20" r="3.12" fill="#cce6f0"/>
<circle cx="259.76" cy="343.20" r="1.55" fill="#fde090"/>
<circle cx="277.79" cy="343.20" r="2.07" fill="#e8f3d8"/>
<circle cx="295.82" cy="343.20" r="6.24" fill="#b8d6ea"/>
<circle cx="313.85" cy="343.20" r="4.78" fill="#e6f3d8"/>
<circle cx="331.88" cy="343.20" r="2.39" fill="#d8eee8"/>
<circle cx="349.91" cy="343.20" r="6.86" fill="#fde090"/>
<circle cx="367.94" cy="343.20" r="3.12" fill="#d8eee8"/>
<circle cx="385.97" cy="343.20" r="2.60" fill="#fdf0a0"/>
<circle cx="404.00" cy="343.20" r="2.08" fill="#fdd080"/>
<circle cx="422.03" cy="343.20" r="1.34" fill="#d0e8f2"/>
<circle cx="440.06" cy="343.20" r="2.70" fill="#cce4f0"/>
<circle cx="458.09" cy="343.20" r="2.50" fill="#90bedd"/>
<circle cx="476.12" cy="343.20" r="1.66" fill="#eef5c8"/>
<circle cx="494.15" cy="343.20" r="1.55" fill="#eef5c8"/>
<circle cx="526.20" cy="343.20" r="2.29" fill="#e2f2e0"/>
<circle cx="544.30" cy="343.20" r="1.97" fill="#fafab8"/>
<circle cx="562.40" cy="343.20" r="4.37" fill="#e2f2e0"/>
<circle cx="580.50" cy="343.20" r="1.55" fill="#a8cce6"/>
<circle cx="598.60" cy="343.20" r="2.07" fill="#fafab8"/>
<circle cx="630.40" cy="343.20" r="2.39" fill="#88b8d8"/>
<circle cx="648.50" cy="343.20" r="3.85" fill="#e2f2e0"/>
<line x1="70.00" y1="343.20" x2="72.60" y2="343.20" stroke="#222" stroke-width="1.1"/>
<text transform="translate(67.40,347.30) scale(1,1.07)" font-size="11.66" text-anchor="end" fill="#222222">10</text>
<circle cx="83.00" cy="361.58" r="1.24" fill="#9ccae8"/>
<circle cx="101.20" cy="361.58" r="8.60" fill="#aacfe4"/>
<circle cx="133.55" cy="361.58" r="0.93" fill="#eef5c8"/>
<circle cx="151.58" cy="361.58" r="2.29" fill="#88b8dc"/>
<circle cx="169.61" cy="361.58" r="1.45" fill="#f2f8c0"/>
<circle cx="187.64" cy="361.58" r="1.66" fill="#fde090"/>
<circle cx="205.67" cy="361.58" r="7.07" fill="#e8f3d8"/>
<circle cx="223.70" cy="361.58" r="2.70" fill="#4a78b8"/>
<circle cx="241.73" cy="361.58" r="2.81" fill="#90bedd"/>
<circle cx="259.76" cy="361.58" r="1.45" fill="#d0e8f0"/>
<circle cx="277.79" cy="361.58" r="1.86" fill="#a8cce6"/>
<circle cx="295.82" cy="361.58" r="5.82" fill="#88b8d8"/>
<circle cx="313.85" cy="361.58" r="3.95" fill="#7eaed4"/>
<circle cx="331.88" cy="361.58" r="2.29" fill="#cfe5f2"/>
<circle cx="349.91" cy="361.58" r="6.55" fill="#e4f2e0"/>
<circle cx="367.94" cy="361.58" r="3.22" fill="#c8e0ef"/>
<circle cx="385.97" cy="361.58" r="2.29" fill="#cce4f0"/>
<circle cx="404.00" cy="361.58" r="1.97" fill="#fafab8"/>
<circle cx="422.03" cy="361.58" r="1.34" fill="#d8eef0"/>
<circle cx="440.06" cy="361.58" r="2.60" fill="#a8cce6"/>
<circle cx="458.09" cy="361.58" r="2.50" fill="#88b8d8"/>
<circle cx="476.12" cy="361.58" r="1.55" fill="#90bedd"/>
<circle cx="494.15" cy="361.58" r="1.76" fill="#fdc070"/>
<circle cx="526.20" cy="361.58" r="2.29" fill="#d8eef5"/>
<circle cx="544.30" cy="361.58" r="1.86" fill="#eef5d8"/>
<circle cx="562.40" cy="361.58" r="3.95" fill="#98c4e0"/>
<circle cx="580.50" cy="361.58" r="1.66" fill="#e2f2e8"/>
<circle cx="598.60" cy="361.58" r="1.97" fill="#d8eef5"/>
<circle cx="630.40" cy="361.58" r="2.50" fill="#b8d6ea"/>
<circle cx="648.50" cy="361.58" r="4.16" fill="#e8f3dc"/>
<line x1="70.00" y1="361.58" x2="72.60" y2="361.58" stroke="#222" stroke-width="1.1"/>
<text transform="translate(67.40,365.69) scale(1,1.07)" font-size="11.66" text-anchor="end" fill="#222222">0</text>
<circle cx="83.00" cy="379.97" r="1.55" fill="#f0f5c0"/>
<circle cx="101.20" cy="379.97" r="8.60" fill="#dcf0f5"/>
<circle cx="133.55" cy="379.97" r="1.03" fill="#eef5c8"/>
<circle cx="151.58" cy="379.97" r="3.33" fill="#f5f8c0"/>
<circle cx="169.61" cy="379.97" r="1.45" fill="#c8e4f0"/>
<circle cx="187.64" cy="379.97" r="1.55" fill="#fdf6b0"/>
<circle cx="205.67" cy="379.97" r="6.76" fill="#98c4dc"/>
<circle cx="223.70" cy="379.97" r="3.43" fill="#f2f7c8"/>
<circle cx="241.73" cy="379.97" r="3.74" fill="#eef5d0"/>
<circle cx="259.76" cy="379.97" r="1.76" fill="#fde090"/>
<circle cx="277.79" cy="379.97" r="2.39" fill="#f5f8c0"/>
<circle cx="295.82" cy="379.97" r="7.90" fill="#fdd890"/>
<circle cx="313.85" cy="379.97" r="6.45" fill="#fde090"/>
<circle cx="331.88" cy="379.97" r="3.54" fill="#fafab8"/>
<circle cx="349.91" cy="379.97" r="7.59" fill="#fdd488"/>
<circle cx="367.94" cy="379.97" r="4.68" fill="#fdc070"/>
<circle cx="385.97" cy="379.97" r="3.12" fill="#fdf0a0"/>
<circle cx="404.00" cy="379.97" r="2.18" fill="#e2f2e0"/>
<circle cx="422.03" cy="379.97" r="1.34" fill="#d8eef0"/>
<circle cx="440.06" cy="379.97" r="3.43" fill="#f0f5d0"/>
<circle cx="458.09" cy="379.97" r="3.95" fill="#fde090"/>
<circle cx="476.12" cy="379.97" r="1.76" fill="#f0f5c0"/>
<circle cx="494.15" cy="379.97" r="1.86" fill="#fdd080"/>
<circle cx="526.20" cy="379.97" r="3.12" fill="#fdf6b0"/>
<circle cx="544.30" cy="379.97" r="1.76" fill="#e2f2e8"/>
<circle cx="562.40" cy="379.97" r="5.51" fill="#fdfab8"/>
<circle cx="580.50" cy="379.97" r="1.66" fill="#fde090"/>
<circle cx="598.60" cy="379.97" r="2.08" fill="#c8e0ef"/>
<circle cx="630.40" cy="379.97" r="3.54" fill="#fdf0a0"/>
<circle cx="648.50" cy="379.97" r="3.95" fill="#e8f3d8"/>
<line x1="70.00" y1="379.97" x2="72.60" y2="379.97" stroke="#222" stroke-width="1.1"/>
<text transform="translate(67.40,384.07) scale(1,1.07)" font-size="11.66" text-anchor="end" fill="#222222">5</text>
<circle cx="83.00" cy="398.36" r="1.34" fill="#e8f0c8"/>
<circle cx="101.20" cy="398.36" r="8.60" fill="#dcf0f0"/>
<circle cx="133.55" cy="398.36" r="0.93" fill="#f2f5c8"/>
<circle cx="151.58" cy="398.36" r="2.50" fill="#dcefe4"/>
<circle cx="169.61" cy="398.36" r="1.66" fill="#fdc070"/>
<circle cx="187.64" cy="398.36" r="1.34" fill="#eef5c8"/>
<circle cx="205.67" cy="398.36" r="8.42" fill="#fda860"/>
<circle cx="223.70" cy="398.36" r="3.02" fill="#e2f2d8"/>
<circle cx="241.73" cy="398.36" r="3.12" fill="#d4eaf2"/>
<circle cx="259.76" cy="398.36" r="1.55" fill="#4a80c0"/>
<circle cx="277.79" cy="398.36" r="2.07" fill="#e8f3d0"/>
<circle cx="295.82" cy="398.36" r="6.55" fill="#bcdaea"/>
<circle cx="313.85" cy="398.36" r="4.68" fill="#dcf0f2"/>
<circle cx="331.88" cy="398.36" r="2.50" fill="#d8eef0"/>
<circle cx="349.91" cy="398.36" r="6.76" fill="#fde090"/>
<circle cx="367.94" cy="398.36" r="3.43" fill="#f2f8c8"/>
<circle cx="385.97" cy="398.36" r="2.60" fill="#fdf6b0"/>
<circle cx="404.00" cy="398.36" r="2.08" fill="#f9a055"/>
<circle cx="422.03" cy="398.36" r="1.34" fill="#fdf0a0"/>
<circle cx="440.06" cy="398.36" r="2.70" fill="#e2f2e0"/>
<circle cx="458.09" cy="398.36" r="2.70" fill="#cce4f0"/>
<circle cx="476.12" cy="398.36" r="1.45" fill="#e2f2e0"/>
<circle cx="494.15" cy="398.36" r="1.45" fill="#e2f2e8"/>
<circle cx="526.20" cy="398.36" r="2.29" fill="#d8eef0"/>
<circle cx="544.30" cy="398.36" r="1.86" fill="#eef5c8"/>
<circle cx="562.40" cy="398.36" r="4.47" fill="#e2f2e0"/>
<circle cx="580.50" cy="398.36" r="1.66" fill="#fafab8"/>
<circle cx="598.60" cy="398.36" r="2.07" fill="#fafab8"/>
<circle cx="630.40" cy="398.36" r="2.70" fill="#c8e0ef"/>
<circle cx="648.50" cy="398.36" r="3.95" fill="#e8f3d8"/>
<line x1="70.00" y1="398.36" x2="72.60" y2="398.36" stroke="#222" stroke-width="1.1"/>
<text transform="translate(67.40,402.46) scale(1,1.07)" font-size="11.66" text-anchor="end" fill="#222222">1</text>
<circle cx="83.00" cy="416.74" r="1.24" fill="#d8eef5"/>
<circle cx="101.20" cy="416.74" r="8.60" fill="#e4f2e4"/>
<circle cx="133.55" cy="416.74" r="0.93" fill="#f0f5c0"/>
<circle cx="151.58" cy="416.74" r="3.02" fill="#e2f2d8"/>
<circle cx="169.61" cy="416.74" r="1.66" fill="#fdc870"/>
<circle cx="187.64" cy="416.74" r="1.55" fill="#fdf6b8"/>
<circle cx="205.67" cy="416.74" r="7.07" fill="#b8d8ea"/>
<circle cx="223.70" cy="416.74" r="4.16" fill="#fdd380"/>
<circle cx="241.73" cy="416.74" r="3.54" fill="#e2f2e0"/>
<circle cx="259.76" cy="416.74" r="1.86" fill="#f68a4a"/>
<circle cx="277.79" cy="416.74" r="2.29" fill="#e8f3d0"/>
<circle cx="295.82" cy="416.74" r="7.80" fill="#fde8a0"/>
<circle cx="313.85" cy="416.74" r="5.72" fill="#e8f3d0"/>
<circle cx="331.88" cy="416.74" r="3.12" fill="#e2f2d8"/>
<circle cx="349.91" cy="416.74" r="7.59" fill="#fdfabb"/>
<circle cx="367.94" cy="416.74" r="3.64" fill="#e2f2e0"/>
<circle cx="385.97" cy="416.74" r="3.12" fill="#fdf6b0"/>
<circle cx="404.00" cy="416.74" r="2.08" fill="#fdf0a0"/>
<circle cx="422.03" cy="416.74" r="1.34" fill="#f5f8c0"/>
<circle cx="440.06" cy="416.74" r="3.54" fill="#f2f8c8"/>
<circle cx="458.09" cy="416.74" r="3.95" fill="#fde090"/>
<circle cx="476.12" cy="416.74" r="1.66" fill="#e2f2e0"/>
<circle cx="494.15" cy="416.74" r="1.86" fill="#fdc070"/>
<circle cx="526.20" cy="416.74" r="2.60" fill="#e2f2e0"/>
<circle cx="544.30" cy="416.74" r="1.76" fill="#e2f2e0"/>
<circle cx="562.40" cy="416.74" r="5.51" fill="#eef5d0"/>
<circle cx="580.50" cy="416.74" r="1.76" fill="#fde090"/>
<circle cx="598.60" cy="416.74" r="2.08" fill="#fafab8"/>
<circle cx="630.40" cy="416.74" r="3.54" fill="#fde090"/>
<circle cx="648.50" cy="416.74" r="3.95" fill="#e8f3d8"/>
<line x1="70.00" y1="416.74" x2="72.60" y2="416.74" stroke="#222" stroke-width="1.1"/>
<text transform="translate(67.40,420.84) scale(1,1.07)" font-size="11.66" text-anchor="end" fill="#222222">3</text>
<circle cx="83.00" cy="435.12" r="1.55" fill="#fdf0a0"/>
<circle cx="101.20" cy="435.12" r="8.60" fill="#e8f3dc"/>
<circle cx="133.55" cy="435.12" r="0.93" fill="#f2f5c8"/>
<circle cx="151.58" cy="435.12" r="2.91" fill="#d8eee8"/>
<circle cx="169.61" cy="435.12" r="1.55" fill="#fdc060"/>
<circle cx="187.64" cy="435.12" r="1.55" fill="#90c0e0"/>
<circle cx="205.67" cy="435.12" r="8.42" fill="#fdc070"/>
<circle cx="223.70" cy="435.12" r="3.64" fill="#fdf8b0"/>
<circle cx="241.73" cy="435.12" r="4.37" fill="#fdf0a8"/>
<circle cx="259.76" cy="435.12" r="1.55" fill="#d0e8f2"/>
<circle cx="277.79" cy="435.12" r="2.29" fill="#eef5c8"/>
<circle cx="295.82" cy="435.12" r="7.49" fill="#fafab8"/>
<circle cx="313.85" cy="435.12" r="5.41" fill="#e6f3dc"/>
<circle cx="331.88" cy="435.12" r="3.33" fill="#e8f3d8"/>
<circle cx="349.91" cy="435.12" r="7.59" fill="#fdc878"/>
<circle cx="367.94" cy="435.12" r="4.68" fill="#fdc070"/>
<circle cx="385.97" cy="435.12" r="3.12" fill="#fdf0a0"/>
<circle cx="404.00" cy="435.12" r="2.08" fill="#fdd888"/>
<circle cx="422.03" cy="435.12" r="1.24" fill="#e8f3d0"/>
<circle cx="440.06" cy="435.12" r="3.54" fill="#fdf0a0"/>
<circle cx="458.09" cy="435.12" r="3.95" fill="#fde8a0"/>
<circle cx="476.12" cy="435.12" r="1.66" fill="#d8eee8"/>
<circle cx="494.15" cy="435.12" r="1.66" fill="#f5f8c0"/>
<circle cx="526.20" cy="435.12" r="2.70" fill="#e8f3d8"/>
<circle cx="544.30" cy="435.12" r="1.76" fill="#e8f3d8"/>
<circle cx="562.40" cy="435.12" r="5.41" fill="#fdfab8"/>
<circle cx="580.50" cy="435.12" r="1.66" fill="#e8f3d8"/>
<circle cx="598.60" cy="435.12" r="2.18" fill="#88b8d8"/>
<circle cx="630.40" cy="435.12" r="3.33" fill="#eef5d0"/>
<circle cx="648.50" cy="435.12" r="3.95" fill="#e2f2e0"/>
<line x1="70.00" y1="435.12" x2="72.60" y2="435.12" stroke="#222" stroke-width="1.1"/>
<text transform="translate(67.40,439.23) scale(1,1.07)" font-size="11.66" text-anchor="end" fill="#222222">2</text>
<circle cx="83.00" cy="453.51" r="1.55" fill="#fdf0a0"/>
<circle cx="101.20" cy="453.51" r="8.60" fill="#f5f8c0"/>
<circle cx="133.55" cy="453.51" r="0.93" fill="#eef5c8"/>
<circle cx="151.58" cy="453.51" r="3.12" fill="#eef5c8"/>
<circle cx="169.61" cy="453.51" r="1.45" fill="#eef5c8"/>
<circle cx="187.64" cy="453.51" r="1.45" fill="#c8e4f0"/>
<circle cx="205.67" cy="453.51" r="8.32" fill="#fde090"/>
<circle cx="223.70" cy="453.51" r="4.26" fill="#f9904f"/>
<circle cx="241.73" cy="453.51" r="4.37" fill="#fdf0a0"/>
<circle cx="259.76" cy="453.51" r="1.76" fill="#fdf0a0"/>
<circle cx="277.79" cy="453.51" r="2.29" fill="#eef5c8"/>
<circle cx="295.82" cy="453.51" r="7.80" fill="#fde49a"/>
<circle cx="313.85" cy="453.51" r="5.82" fill="#f5f8c0"/>
<circle cx="331.88" cy="453.51" r="3.64" fill="#fdf3a0"/>
<circle cx="349.91" cy="453.51" r="7.59" fill="#fdf3a8"/>
<circle cx="367.94" cy="453.51" r="4.47" fill="#fde090"/>
<circle cx="385.97" cy="453.51" r="3.12" fill="#fde090"/>
<circle cx="404.00" cy="453.51" r="2.08" fill="#fafab8"/>
<circle cx="422.03" cy="453.51" r="1.34" fill="#e2f2e0"/>
<circle cx="440.06" cy="453.51" r="3.64" fill="#fde090"/>
<circle cx="458.09" cy="453.51" r="4.26" fill="#fdb870"/>
<circle cx="476.12" cy="453.51" r="1.76" fill="#f5f8c0"/>
<circle cx="494.15" cy="453.51" r="1.66" fill="#eef5c8"/>
<circle cx="526.20" cy="453.51" r="2.70" fill="#eef5d0"/>
<circle cx="544.30" cy="453.51" r="1.76" fill="#e2f2d8"/>
<circle cx="562.40" cy="453.51" r="5.72" fill="#fdf3a8"/>
<circle cx="580.50" cy="453.51" r="1.66" fill="#e8f3d8"/>
<circle cx="598.60" cy="453.51" r="2.08" fill="#e2f2e8"/>
<circle cx="630.40" cy="453.51" r="3.74" fill="#fde090"/>
<circle cx="648.50" cy="453.51" r="3.74" fill="#eef5d0"/>
<line x1="70.00" y1="453.51" x2="72.60" y2="453.51" stroke="#222" stroke-width="1.1"/>
<text transform="translate(67.40,457.61) scale(1,1.07)" font-size="11.66" text-anchor="end" fill="#222222">8</text>
<circle cx="83.00" cy="471.89" r="1.55" fill="#f0f5c0"/>
<circle cx="101.20" cy="471.89" r="8.60" fill="#fdf8b0"/>
<circle cx="133.55" cy="471.89" r="0.82" fill="#f0f5c8"/>
<circle cx="151.58" cy="471.89" r="3.64" fill="#fde090"/>
<circle cx="169.61" cy="471.89" r="1.45" fill="#d8eef0"/>
<circle cx="187.64" cy="471.89" r="1.66" fill="#5a90c8"/>
<circle cx="205.67" cy="471.89" r="7.80" fill="#e0f0f0"/>
<circle cx="223.70" cy="471.89" r="4.16" fill="#fdd080"/>
<circle cx="241.73" cy="471.89" r="4.89" fill="#fdd080"/>
<circle cx="259.76" cy="471.89" r="1.86" fill="#f2f8c8"/>
<circle cx="277.79" cy="471.89" r="2.39" fill="#e2f2e0"/>
<circle cx="295.82" cy="471.89" r="8.32" fill="#fde090"/>
<circle cx="313.85" cy="471.89" r="6.45" fill="#fafab0"/>
<circle cx="331.88" cy="471.89" r="3.43" fill="#e6f3dc"/>
<circle cx="349.91" cy="471.89" r="7.80" fill="#fdf6b0"/>
<circle cx="367.94" cy="471.89" r="4.89" fill="#fdd080"/>
<circle cx="385.97" cy="471.89" r="2.81" fill="#c0dcec"/>
<circle cx="404.00" cy="471.89" r="2.07" fill="#a8cce6"/>
<circle cx="422.03" cy="471.89" r="1.34" fill="#e2f2e0"/>
<circle cx="440.06" cy="471.89" r="3.54" fill="#e2f2e8"/>
<circle cx="458.09" cy="471.89" r="4.99" fill="#fd9e5a"/>
<circle cx="476.12" cy="471.89" r="2.18" fill="#f9a055"/>
<circle cx="494.15" cy="471.89" r="1.66" fill="#eef5c8"/>
<circle cx="526.20" cy="471.89" r="3.54" fill="#fde090"/>
<circle cx="544.30" cy="471.89" r="1.86" fill="#eef5d0"/>
<circle cx="562.40" cy="471.89" r="5.41" fill="#a8cce6"/>
<circle cx="580.50" cy="471.89" r="1.66" fill="#e8f3d8"/>
<circle cx="598.60" cy="471.89" r="2.18" fill="#e2f2e8"/>
<circle cx="630.40" cy="471.89" r="3.54" fill="#fdf0a0"/>
<circle cx="648.50" cy="471.89" r="3.74" fill="#e8f3d8"/>
<line x1="70.00" y1="471.89" x2="72.60" y2="471.89" stroke="#222" stroke-width="1.1"/>
<text transform="translate(67.40,476.00) scale(1,1.07)" font-size="11.66" text-anchor="end" fill="#222222">12</text>
<circle cx="83.00" cy="490.28" r="1.55" fill="#d8eee8"/>
<circle cx="101.20" cy="490.28" r="8.60" fill="#fdf0a8"/>
<circle cx="133.55" cy="490.28" r="0.93" fill="#f0f5c8"/>
<circle cx="151.58" cy="490.28" r="3.33" fill="#e0f0d8"/>
<circle cx="169.61" cy="490.28" r="1.55" fill="#fde090"/>
<circle cx="187.64" cy="490.28" r="1.45" fill="#e8f3d0"/>
<circle cx="205.67" cy="490.28" r="8.42" fill="#fdd890"/>
<circle cx="223.70" cy="490.28" r="4.16" fill="#fdfab8"/>
<circle cx="241.73" cy="490.28" r="4.37" fill="#d8eef0"/>
<circle cx="259.76" cy="490.28" r="1.76" fill="#f5f8c0"/>
<circle cx="277.79" cy="490.28" r="2.29" fill="#e2f2d8"/>
<circle cx="295.82" cy="490.28" r="7.90" fill="#d8eef2"/>
<circle cx="313.85" cy="490.28" r="6.03" fill="#d8eef5"/>
<circle cx="331.88" cy="490.28" r="3.54" fill="#e2f2e0"/>
<circle cx="349.91" cy="490.28" r="7.80" fill="#f5f8c8"/>
<circle cx="367.94" cy="490.28" r="4.68" fill="#c0dcec"/>
<circle cx="385.97" cy="490.28" r="3.43" fill="#fafab8"/>
<circle cx="404.00" cy="490.28" r="2.50" fill="#fdd888"/>
<circle cx="422.03" cy="490.28" r="1.45" fill="#fdf6b0"/>
<circle cx="440.06" cy="490.28" r="4.16" fill="#fafab8"/>
<circle cx="458.09" cy="490.28" r="4.16" fill="#e8f3dc"/>
<circle cx="476.12" cy="490.28" r="1.86" fill="#e2f2e0"/>
<circle cx="494.15" cy="490.28" r="2.18" fill="#fdd080"/>
<circle cx="526.20" cy="490.28" r="3.12" fill="#e2f2e8"/>
<circle cx="544.30" cy="490.28" r="1.86" fill="#e8f3d8"/>
<circle cx="562.40" cy="490.28" r="5.72" fill="#daeef5"/>
<circle cx="580.50" cy="490.28" r="2.18" fill="#fdd888"/>
<circle cx="598.60" cy="490.28" r="2.70" fill="#fdd888"/>
<circle cx="630.40" cy="490.28" r="2.50" fill="#dceff5"/>
<circle cx="648.50" cy="490.28" r="3.64" fill="#d8eef0"/>
<line x1="70.00" y1="490.28" x2="72.60" y2="490.28" stroke="#222" stroke-width="1.1"/>
<text transform="translate(67.40,494.38) scale(1,1.07)" font-size="11.66" text-anchor="end" fill="#222222">11</text>
<circle cx="83.00" cy="508.66" r="2.08" fill="#fdbf70"/>
<circle cx="101.20" cy="508.66" r="8.60" fill="#fde8a0"/>
<circle cx="133.55" cy="508.66" r="0.82" fill="#f0f5c8"/>
<circle cx="151.58" cy="508.66" r="2.91" fill="#e8f3d0"/>
<circle cx="169.61" cy="508.66" r="1.45" fill="#fde8a0"/>
<circle cx="187.64" cy="508.66" r="1.45" fill="#fdf0a8"/>
<circle cx="205.67" cy="508.66" r="8.11" fill="#fdd890"/>
<circle cx="223.70" cy="508.66" r="3.12" fill="#c0dcec"/>
<circle cx="241.73" cy="508.66" r="3.12" fill="#b8d6ea"/>
<circle cx="259.76" cy="508.66" r="1.45" fill="#80b0d8"/>
<circle cx="277.79" cy="508.66" r="1.86" fill="#d0e8f0"/>
<circle cx="295.82" cy="508.66" r="6.24" fill="#a8cce6"/>
<circle cx="313.85" cy="508.66" r="4.78" fill="#e2f2e0"/>
<circle cx="331.88" cy="508.66" r="2.50" fill="#e8f3d8"/>
<circle cx="349.91" cy="508.66" r="6.76" fill="#fdeaa0"/>
<circle cx="367.94" cy="508.66" r="3.12" fill="#6fa0d0"/>
<circle cx="385.97" cy="508.66" r="2.70" fill="#fdf0a0"/>
<circle cx="404.00" cy="508.66" r="2.08" fill="#fdb870"/>
<circle cx="422.03" cy="508.66" r="1.24" fill="#d8eef0"/>
<circle cx="440.06" cy="508.66" r="2.70" fill="#b8d6ea"/>
<circle cx="458.09" cy="508.66" r="2.70" fill="#90bedd"/>
<circle cx="476.12" cy="508.66" r="1.45" fill="#e2f2e0"/>
<circle cx="494.15" cy="508.66" r="1.55" fill="#fdf0a0"/>
<circle cx="526.20" cy="508.66" r="2.18" fill="#e2f2e0"/>
<circle cx="544.30" cy="508.66" r="1.55" fill="#e8f3d8"/>
<circle cx="562.40" cy="508.66" r="4.47" fill="#e8f3d8"/>
<circle cx="580.50" cy="508.66" r="1.55" fill="#f5f8c8"/>
<circle cx="598.60" cy="508.66" r="2.39" fill="#ee6040"/>
<circle cx="630.40" cy="508.66" r="2.60" fill="#c8e0ef"/>
<circle cx="648.50" cy="508.66" r="3.95" fill="#e8f3d8"/>
<line x1="70.00" y1="508.66" x2="72.60" y2="508.66" stroke="#222" stroke-width="1.1"/>
<text transform="translate(67.40,512.76) scale(1,1.07)" font-size="11.66" text-anchor="end" fill="#222222">4</text>
<circle cx="83.00" cy="527.05" r="2.08" fill="#fde090"/>
<circle cx="101.20" cy="527.05" r="8.60" fill="#fde8a0"/>
<circle cx="133.55" cy="527.05" r="1.45" fill="#d73027"/>
<circle cx="151.58" cy="527.05" r="3.74" fill="#e04a30"/>
<circle cx="169.61" cy="527.05" r="1.66" fill="#d73027"/>
<circle cx="187.64" cy="527.05" r="1.76" fill="#f06040"/>
<circle cx="205.67" cy="527.05" r="6.76" fill="#d4eaf2"/>
<circle cx="223.70" cy="527.05" r="3.12" fill="#fdd880"/>
<circle cx="241.73" cy="527.05" r="4.58" fill="#f58050"/>
<circle cx="259.76" cy="527.05" r="1.55" fill="#fafab8"/>
<circle cx="277.79" cy="527.05" r="2.70" fill="#e8603c"/>
<circle cx="295.82" cy="527.05" r="7.28" fill="#fdb870"/>
<circle cx="313.85" cy="527.05" r="6.24" fill="#e8603c"/>
<circle cx="331.88" cy="527.05" r="4.37" fill="#d83028"/>
<circle cx="349.91" cy="527.05" r="5.82" fill="#3d72b8"/>
<circle cx="367.94" cy="527.05" r="3.12" fill="#e2f2e0"/>
<circle cx="385.97" cy="527.05" r="2.08" fill="#4a7cc0"/>
<circle cx="404.00" cy="527.05" r="1.45" fill="#4a7cc0"/>
<circle cx="422.03" cy="527.05" r="1.45" fill="#d73027"/>
<circle cx="440.06" cy="527.05" r="3.12" fill="#fde090"/>
<circle cx="458.09" cy="527.05" r="2.70" fill="#eef5d0"/>
<circle cx="476.12" cy="527.05" r="2.18" fill="#d73027"/>
<circle cx="494.15" cy="527.05" r="1.45" fill="#4a7cc0"/>
<circle cx="526.20" cy="527.05" r="3.43" fill="#fdb870"/>
<circle cx="544.30" cy="527.05" r="3.64" fill="#d83828"/>
<circle cx="562.40" cy="527.05" r="5.41" fill="#ee6a40"/>
<circle cx="580.50" cy="527.05" r="1.97" fill="#d73027"/>
<circle cx="598.60" cy="527.05" r="2.29" fill="#fa9a60"/>
<circle cx="630.40" cy="527.05" r="4.58" fill="#f98e55"/>
<circle cx="648.50" cy="527.05" r="6.03" fill="#e05838"/>
<line x1="70.00" y1="527.05" x2="72.60" y2="527.05" stroke="#222" stroke-width="1.1"/>
<text transform="translate(67.40,531.15) scale(1,1.07)" font-size="11.66" text-anchor="end" fill="#222222">13</text>
<circle cx="83.00" cy="545.43" r="3.00" fill="#fdc070"/>
<circle cx="101.20" cy="545.43" r="8.60" fill="#fdb870"/>
<circle cx="133.55" cy="545.43" r="1.03" fill="#fdf6b0"/>
<circle cx="151.58" cy="545.43" r="5.72" fill="#f98a50"/>
<circle cx="169.61" cy="545.43" r="1.55" fill="#d4eaf2"/>
<circle cx="187.64" cy="545.43" r="1.76" fill="#fdf6b0"/>
<circle cx="205.67" cy="545.43" r="7.80" fill="#d4eaf2"/>
<circle cx="223.70" cy="545.43" r="4.47" fill="#c8e0ef"/>
<circle cx="241.73" cy="545.43" r="6.55" fill="#f98e55"/>
<circle cx="259.76" cy="545.43" r="2.29" fill="#f06a40"/>
<circle cx="277.79" cy="545.43" r="4.16" fill="#e8603c"/>
<circle cx="295.82" cy="545.43" r="8.53" fill="#fdd080"/>
<circle cx="313.85" cy="545.43" r="7.80" fill="#f9a060"/>
<circle cx="331.88" cy="545.43" r="6.03" fill="#f9a05a"/>
<circle cx="349.91" cy="545.43" r="8.01" fill="#e0f0f0"/>
<circle cx="367.94" cy="545.43" r="6.24" fill="#f67c48"/>
<circle cx="385.97" cy="545.43" r="4.37" fill="#fda060"/>
<circle cx="404.00" cy="545.43" r="2.39" fill="#e8f3d8"/>
<circle cx="422.03" cy="545.43" r="1.86" fill="#fdd080"/>
<circle cx="440.06" cy="545.43" r="5.72" fill="#e05838"/>
<circle cx="458.09" cy="545.43" r="5.20" fill="#fde090"/>
<circle cx="476.12" cy="545.43" r="2.60" fill="#fdc070"/>
<circle cx="494.15" cy="545.43" r="2.29" fill="#f98a50"/>
<circle cx="526.20" cy="545.43" r="5.51" fill="#f98850"/>
<circle cx="544.30" cy="545.43" r="4.47" fill="#fda860"/>
<circle cx="562.40" cy="545.43" r="7.59" fill="#fdb870"/>
<circle cx="580.50" cy="545.43" r="1.76" fill="#e2f2e8"/>
<circle cx="598.60" cy="545.43" r="3.12" fill="#fafab8"/>
<circle cx="630.40" cy="545.43" r="4.89" fill="#f98e55"/>
<circle cx="648.50" cy="545.43" r="5.93" fill="#fdaa60"/>
<line x1="70.00" y1="545.43" x2="72.60" y2="545.43" stroke="#222" stroke-width="1.1"/>
<text transform="translate(67.40,549.53) scale(1,1.07)" font-size="11.66" text-anchor="end" fill="#222222">9</text>
<circle cx="83.00" cy="563.82" r="2.90" fill="#fde8a0"/>
<circle cx="101.20" cy="563.82" r="8.60" fill="#fda060"/>
<circle cx="133.55" cy="563.82" r="0.93" fill="#f5f8c0"/>
<circle cx="151.58" cy="563.82" r="5.72" fill="#fdb870"/>
<circle cx="169.61" cy="563.82" r="1.55" fill="#d0e8f2"/>
<circle cx="187.64" cy="563.82" r="1.76" fill="#e0f0e8"/>
<circle cx="205.67" cy="563.82" r="8.32" fill="#eaf4dc"/>
<circle cx="223.70" cy="563.82" r="5.72" fill="#fde090"/>
<circle cx="241.73" cy="563.82" r="7.07" fill="#f98e55"/>
<circle cx="259.76" cy="563.82" r="2.50" fill="#fdb870"/>
<circle cx="277.79" cy="563.82" r="4.16" fill="#fdb870"/>
<circle cx="295.82" cy="563.82" r="8.63" fill="#fdd888"/>
<circle cx="313.85" cy="563.82" r="8.01" fill="#fdc878"/>
<circle cx="331.88" cy="563.82" r="6.03" fill="#fdd888"/>
<circle cx="349.91" cy="563.82" r="8.32" fill="#f0f5d0"/>
<circle cx="367.94" cy="563.82" r="6.55" fill="#fdb060"/>
<circle cx="385.97" cy="563.82" r="5.20" fill="#f47a48"/>
<circle cx="404.00" cy="563.82" r="2.91" fill="#fafab8"/>
<circle cx="422.03" cy="563.82" r="2.07" fill="#f98a50"/>
<circle cx="440.06" cy="563.82" r="6.24" fill="#f47a48"/>
<circle cx="458.09" cy="563.82" r="5.62" fill="#fde090"/>
<circle cx="476.12" cy="563.82" r="2.81" fill="#fde090"/>
<circle cx="494.15" cy="563.82" r="2.18" fill="#fde090"/>
<circle cx="526.20" cy="563.82" r="6.76" fill="#e04a30"/>
<circle cx="544.30" cy="563.82" r="5.20" fill="#f67c48"/>
<circle cx="562.40" cy="563.82" r="8.01" fill="#f98e55"/>
<circle cx="580.50" cy="563.82" r="2.08" fill="#f5f8c0"/>
<circle cx="598.60" cy="563.82" r="3.12" fill="#e8f3d8"/>
<circle cx="630.40" cy="563.82" r="4.78" fill="#fda860"/>
<circle cx="648.50" cy="563.82" r="6.55" fill="#e8603c"/>
<line x1="70.00" y1="563.82" x2="72.60" y2="563.82" stroke="#222" stroke-width="1.1"/>
<text transform="translate(67.40,567.92) scale(1,1.07)" font-size="11.66" text-anchor="end" fill="#222222">6</text>
<circle cx="83.00" cy="582.21" r="3.00" fill="#e04a30"/>
<circle cx="101.20" cy="582.21" r="8.60" fill="#f77d4f"/>
<circle cx="133.55" cy="582.21" r="1.03" fill="#fdf0a0"/>
<circle cx="151.58" cy="582.21" r="3.85" fill="#fafabb"/>
<circle cx="169.61" cy="582.21" r="1.45" fill="#d8f0e0"/>
<circle cx="187.64" cy="582.21" r="1.66" fill="#f58050"/>
<circle cx="205.67" cy="582.21" r="8.63" fill="#fdd080"/>
<circle cx="223.70" cy="582.21" r="3.95" fill="#fdd890"/>
<circle cx="241.73" cy="582.21" r="4.37" fill="#fdf0a0"/>
<circle cx="259.76" cy="582.21" r="1.86" fill="#fdf6b0"/>
<circle cx="277.79" cy="582.21" r="2.39" fill="#f5f8c8"/>
<circle cx="295.82" cy="582.21" r="8.11" fill="#fda860"/>
<circle cx="313.85" cy="582.21" r="6.76" fill="#fde090"/>
<circle cx="331.88" cy="582.21" r="3.64" fill="#fdf3a8"/>
<circle cx="349.91" cy="582.21" r="7.59" fill="#fdc070"/>
<circle cx="367.94" cy="582.21" r="3.95" fill="#f2f8c8"/>
<circle cx="385.97" cy="582.21" r="3.12" fill="#fde8a0"/>
<circle cx="404.00" cy="582.21" r="2.18" fill="#fdd080"/>
<circle cx="422.03" cy="582.21" r="1.34" fill="#fde090"/>
<circle cx="440.06" cy="582.21" r="3.33" fill="#f5f8c8"/>
<circle cx="458.09" cy="582.21" r="4.26" fill="#fdb060"/>
<circle cx="476.12" cy="582.21" r="1.76" fill="#f5f8c8"/>
<circle cx="494.15" cy="582.21" r="1.55" fill="#cce4f0"/>
<circle cx="526.20" cy="582.21" r="3.12" fill="#eef5d0"/>
<circle cx="544.30" cy="582.21" r="1.86" fill="#e2f2e0"/>
<circle cx="562.40" cy="582.21" r="5.72" fill="#fde490"/>
<circle cx="580.50" cy="582.21" r="1.86" fill="#fde090"/>
<circle cx="598.60" cy="582.21" r="2.39" fill="#fa9a60"/>
<circle cx="630.40" cy="582.21" r="3.74" fill="#fde090"/>
<circle cx="648.50" cy="582.21" r="3.74" fill="#eef5d8"/>
<line x1="70.00" y1="582.21" x2="72.60" y2="582.21" stroke="#222" stroke-width="1.1"/>
<text transform="translate(67.40,586.31) scale(1,1.07)" font-size="11.66" text-anchor="end" fill="#222222">7</text>
<line x1="72.60" y1="331.50" x2="72.60" y2="593.70" stroke="#333333" stroke-width="1.1"/>
<line x1="72.10" y1="593.20" x2="112.80" y2="593.20" stroke="#333333" stroke-width="1.1"/>
<line x1="122.20" y1="593.20" x2="505.60" y2="593.20" stroke="#333333" stroke-width="1.1"/>
<line x1="514.90" y1="593.20" x2="609.40" y2="593.20" stroke="#333333" stroke-width="1.1"/>
<line x1="619.40" y1="593.20" x2="659.90" y2="593.20" stroke="#333333" stroke-width="1.1"/>
<line x1="72.60" y1="326.30" x2="111.80" y2="326.30" stroke="#222" stroke-width="1.2"/>
<text transform="translate(91.30,320.60) scale(1,1.07)" font-size="11.66" text-anchor="middle" fill="#222222">CD19</text>
<line x1="122.70" y1="326.30" x2="505.40" y2="326.30" stroke="#222" stroke-width="1.2"/>
<text transform="translate(314.00,320.60) scale(1,1.07)" font-size="11.66" text-anchor="middle" fill="#222222">Activators</text>
<line x1="515.40" y1="326.30" x2="609.40" y2="326.30" stroke="#222" stroke-width="1.2"/>
<text transform="translate(562.10,320.60) scale(1,1.07)" font-size="11.66" text-anchor="middle" fill="#222222">Repressors</text>
<line x1="618.80" y1="326.30" x2="658.80" y2="326.30" stroke="#222" stroke-width="1.2"/>
<text transform="translate(640.00,320.60) scale(1,1.07)" font-size="11.66" text-anchor="middle" fill="#222222">Scores</text>
<text transform="translate(47.90,459.80) rotate(-90) scale(1,1.07)" font-size="11.66" text-anchor="middle" fill="#222222">Clusters</text>
<line x1="83.00" y1="593.20" x2="83.00" y2="595.70" stroke="#222" stroke-width="1.1"/>
<text transform="translate(87.20,597.20) rotate(-90) scale(1,1.07)" font-size="11.66" text-anchor="end" font-style="italic" fill="#222222">Cd19 RNA</text>
<line x1="101.20" y1="593.20" x2="101.20" y2="595.70" stroke="#222" stroke-width="1.1"/>
<text transform="translate(105.40,597.20) rotate(-90) scale(1,1.07)" font-size="11.66" text-anchor="end" fill="#222222">CD19 protein</text>
<line x1="133.55" y1="593.20" x2="133.55" y2="595.70" stroke="#222" stroke-width="1.1"/>
<text transform="translate(137.75,597.20) rotate(-90) scale(1,1.07)" font-size="11.66" text-anchor="end" font-style="italic" fill="#222222">Pax5</text>
<line x1="151.58" y1="593.20" x2="151.58" y2="595.70" stroke="#222" stroke-width="1.1"/>
<text transform="translate(155.78,597.20) rotate(-90) scale(1,1.07)" font-size="11.66" text-anchor="end" font-style="italic" fill="#222222">Prpf19</text>
<line x1="169.61" y1="593.20" x2="169.61" y2="595.70" stroke="#222" stroke-width="1.1"/>
<text transform="translate(173.81,597.20) rotate(-90) scale(1,1.07)" font-size="11.66" text-anchor="end" font-style="italic" fill="#222222">Kmt2d</text>
<line x1="187.64" y1="593.20" x2="187.64" y2="595.70" stroke="#222" stroke-width="1.1"/>
<text transform="translate(191.84,597.20) rotate(-90) scale(1,1.07)" font-size="11.66" text-anchor="end" font-style="italic" fill="#222222">Wdr20</text>
<line x1="205.67" y1="593.20" x2="205.67" y2="595.70" stroke="#222" stroke-width="1.1"/>
<text transform="translate(209.87,597.20) rotate(-90) scale(1,1.07)" font-size="11.66" text-anchor="end" font-style="italic" fill="#222222">Cd81</text>
<line x1="223.70" y1="593.20" x2="223.70" y2="595.70" stroke="#222" stroke-width="1.1"/>
<text transform="translate(227.90,597.20) rotate(-90) scale(1,1.07)" font-size="11.66" text-anchor="end" font-style="italic" fill="#222222">Ascc3</text>
<line x1="241.73" y1="593.20" x2="241.73" y2="595.70" stroke="#222" stroke-width="1.1"/>
<text transform="translate(245.93,597.20) rotate(-90) scale(1,1.07)" font-size="11.66" text-anchor="end" font-style="italic" fill="#222222">Phf5a</text>
<line x1="259.76" y1="593.20" x2="259.76" y2="595.70" stroke="#222" stroke-width="1.1"/>
<text transform="translate(263.96,597.20) rotate(-90) scale(1,1.07)" font-size="11.66" text-anchor="end" font-style="italic" fill="#222222">Ctnnbl1</text>
<line x1="277.79" y1="593.20" x2="277.79" y2="595.70" stroke="#222" stroke-width="1.1"/>
<text transform="translate(281.99,597.20) rotate(-90) scale(1,1.07)" font-size="11.66" text-anchor="end" font-style="italic" fill="#222222">Dhx15</text>
<line x1="295.82" y1="593.20" x2="295.82" y2="595.70" stroke="#222" stroke-width="1.1"/>
<text transform="translate(300.02,597.20) rotate(-90) scale(1,1.07)" font-size="11.66" text-anchor="end" font-style="italic" fill="#222222">Sec61a1</text>
<line x1="313.85" y1="593.20" x2="313.85" y2="595.70" stroke="#222" stroke-width="1.1"/>
<text transform="translate(318.05,597.20) rotate(-90) scale(1,1.07)" font-size="11.66" text-anchor="end" font-style="italic" fill="#222222">Canx</text>
<line x1="331.88" y1="593.20" x2="331.88" y2="595.70" stroke="#222" stroke-width="1.1"/>
<text transform="translate(336.08,597.20) rotate(-90) scale(1,1.07)" font-size="11.66" text-anchor="end" font-style="italic" fill="#222222">Ptbp1</text>
<line x1="349.91" y1="593.20" x2="349.91" y2="595.70" stroke="#222" stroke-width="1.1"/>
<text transform="translate(354.11,597.20) rotate(-90) scale(1,1.07)" font-size="11.66" text-anchor="end" font-style="italic" fill="#222222">Rbm39</text>
<line x1="367.94" y1="593.20" x2="367.94" y2="595.70" stroke="#222" stroke-width="1.1"/>
<text transform="translate(372.14,597.20) rotate(-90) scale(1,1.07)" font-size="11.66" text-anchor="end" font-style="italic" fill="#222222">Sap18</text>
<line x1="385.97" y1="593.20" x2="385.97" y2="595.70" stroke="#222" stroke-width="1.1"/>
<text transform="translate(390.17,597.20) rotate(-90) scale(1,1.07)" font-size="11.66" text-anchor="end" font-style="italic" fill="#222222">U2surp</text>
<line x1="404.00" y1="593.20" x2="404.00" y2="595.70" stroke="#222" stroke-width="1.1"/>
<text transform="translate(408.20,597.20) rotate(-90) scale(1,1.07)" font-size="11.66" text-anchor="end" font-style="italic" fill="#222222">Crebbp</text>
<line x1="422.03" y1="593.20" x2="422.03" y2="595.70" stroke="#222" stroke-width="1.1"/>
<text transform="translate(426.23,597.20) rotate(-90) scale(1,1.07)" font-size="11.66" text-anchor="end" font-style="italic" fill="#222222">Rbbp5</text>
<line x1="440.06" y1="593.20" x2="440.06" y2="595.70" stroke="#222" stroke-width="1.1"/>
<text transform="translate(444.26,597.20) rotate(-90) scale(1,1.07)" font-size="11.66" text-anchor="end" font-style="italic" fill="#222222">Prpf40a</text>
<line x1="458.09" y1="593.20" x2="458.09" y2="595.70" stroke="#222" stroke-width="1.1"/>
<text transform="translate(462.29,597.20) rotate(-90) scale(1,1.07)" font-size="11.66" text-anchor="end" font-style="italic" fill="#222222">Srp68</text>
<line x1="476.12" y1="593.20" x2="476.12" y2="595.70" stroke="#222" stroke-width="1.1"/>
<text transform="translate(480.32,597.20) rotate(-90) scale(1,1.07)" font-size="11.66" text-anchor="end" font-style="italic" fill="#222222">Ppie</text>
<line x1="494.15" y1="593.20" x2="494.15" y2="595.70" stroke="#222" stroke-width="1.1"/>
<text transform="translate(498.35,597.20) rotate(-90) scale(1,1.07)" font-size="11.66" text-anchor="end" font-style="italic" fill="#222222">Wdr55</text>
<line x1="526.20" y1="593.20" x2="526.20" y2="595.70" stroke="#222" stroke-width="1.1"/>
<text transform="translate(530.40,597.20) rotate(-90) scale(1,1.07)" font-size="11.66" text-anchor="end" font-style="italic" fill="#222222">Nudt21</text>
<line x1="544.30" y1="593.20" x2="544.30" y2="595.70" stroke="#222" stroke-width="1.1"/>
<text transform="translate(548.50,597.20) rotate(-90) scale(1,1.07)" font-size="11.66" text-anchor="end" font-style="italic" fill="#222222">Dtymk</text>
<line x1="562.40" y1="593.20" x2="562.40" y2="595.70" stroke="#222" stroke-width="1.1"/>
<text transform="translate(566.60,597.20) rotate(-90) scale(1,1.07)" font-size="11.66" text-anchor="end" font-style="italic" fill="#222222">Hnrnpl</text>
<line x1="580.50" y1="593.20" x2="580.50" y2="595.70" stroke="#222" stroke-width="1.1"/>
<text transform="translate(584.70,597.20) rotate(-90) scale(1,1.07)" font-size="11.66" text-anchor="end" font-style="italic" fill="#222222">Trrap</text>
<line x1="598.60" y1="593.20" x2="598.60" y2="595.70" stroke="#222" stroke-width="1.1"/>
<text transform="translate(602.80,597.20) rotate(-90) scale(1,1.07)" font-size="11.66" text-anchor="end" font-style="italic" fill="#222222">Ctdnep1</text>
<line x1="630.40" y1="593.20" x2="630.40" y2="595.70" stroke="#222" stroke-width="1.1"/>
<text transform="translate(634.60,597.20) rotate(-90) scale(1,1.07)" font-size="11.66" text-anchor="end" fill="#222222">Acitvators</text>
<line x1="648.50" y1="593.20" x2="648.50" y2="595.70" stroke="#222" stroke-width="1.1"/>
<text transform="translate(652.70,597.20) rotate(-90) scale(1,1.07)" font-size="11.66" text-anchor="end" fill="#222222">Repressors</text>
<text transform="translate(221.50,664.20) scale(1,1.07)" font-size="11.8" text-anchor="start" fill="#222222">Percent Expressed</text>
<circle cx="197.40" cy="679.90" r="0.60" fill="#000"/>
<text transform="translate(206.90,683.20) scale(1,1.07)" font-size="9.3" text-anchor="start" fill="#222222">0</text>
<circle cx="223.50" cy="679.90" r="2.70" fill="#000"/>
<text transform="translate(230.20,683.20) scale(1,1.07)" font-size="9.3" text-anchor="start" fill="#222222">25</text>
<circle cx="253.30" cy="679.90" r="5.00" fill="#000"/>
<text transform="translate(262.50,683.20) scale(1,1.07)" font-size="9.3" text-anchor="start" fill="#222222">50</text>
<circle cx="286.30" cy="679.90" r="6.80" fill="#000"/>
<text transform="translate(296.20,683.20) scale(1,1.07)" font-size="9.3" text-anchor="start" fill="#222222">75</text>
<circle cx="322.00" cy="679.90" r="8.70" fill="#000"/>
<text transform="translate(334.70,683.20) scale(1,1.07)" font-size="9.3" text-anchor="start" fill="#222222">100</text>
<text transform="translate(428.00,664.70) scale(1,1.07)" font-size="11.66" text-anchor="start" fill="#222222">Avg. Expression</text>
<rect x="424.3" y="675.4" width="91.6" height="9.7" fill="url(#gC)"/>
<line x1="433.50" y1="675.40" x2="433.50" y2="677.30" stroke="#fff" stroke-width="0.8"/>
<line x1="433.50" y1="683.20" x2="433.50" y2="685.10" stroke="#fff" stroke-width="0.8"/>
<line x1="451.90" y1="675.40" x2="451.90" y2="677.30" stroke="#fff" stroke-width="0.8"/>
<line x1="451.90" y1="683.20" x2="451.90" y2="685.10" stroke="#fff" stroke-width="0.8"/>
<line x1="470.40" y1="675.40" x2="470.40" y2="677.30" stroke="#fff" stroke-width="0.8"/>
<line x1="470.40" y1="683.20" x2="470.40" y2="685.10" stroke="#fff" stroke-width="0.8"/>
<line x1="488.50" y1="675.40" x2="488.50" y2="677.30" stroke="#fff" stroke-width="0.8"/>
<line x1="488.50" y1="683.20" x2="488.50" y2="685.10" stroke="#fff" stroke-width="0.8"/>
<line x1="506.90" y1="675.40" x2="506.90" y2="677.30" stroke="#fff" stroke-width="0.8"/>
<line x1="506.90" y1="683.20" x2="506.90" y2="685.10" stroke="#fff" stroke-width="0.8"/>
<text transform="translate(433.90,694.80) scale(1,1.07)" font-size="9.0" text-anchor="middle" fill="#222222">-2</text>
<text transform="translate(452.30,694.80) scale(1,1.07)" font-size="9.0" text-anchor="middle" fill="#222222">-1</text>
<text transform="translate(470.40,694.80) scale(1,1.07)" font-size="9.0" text-anchor="middle" fill="#222222">0</text>
<text transform="translate(488.50,694.80) scale(1,1.07)" font-size="9.0" text-anchor="middle" fill="#222222">1</text>
<text transform="translate(506.90,694.80) scale(1,1.07)" font-size="9.0" text-anchor="middle" fill="#222222">2</text>
</svg></body></html>
